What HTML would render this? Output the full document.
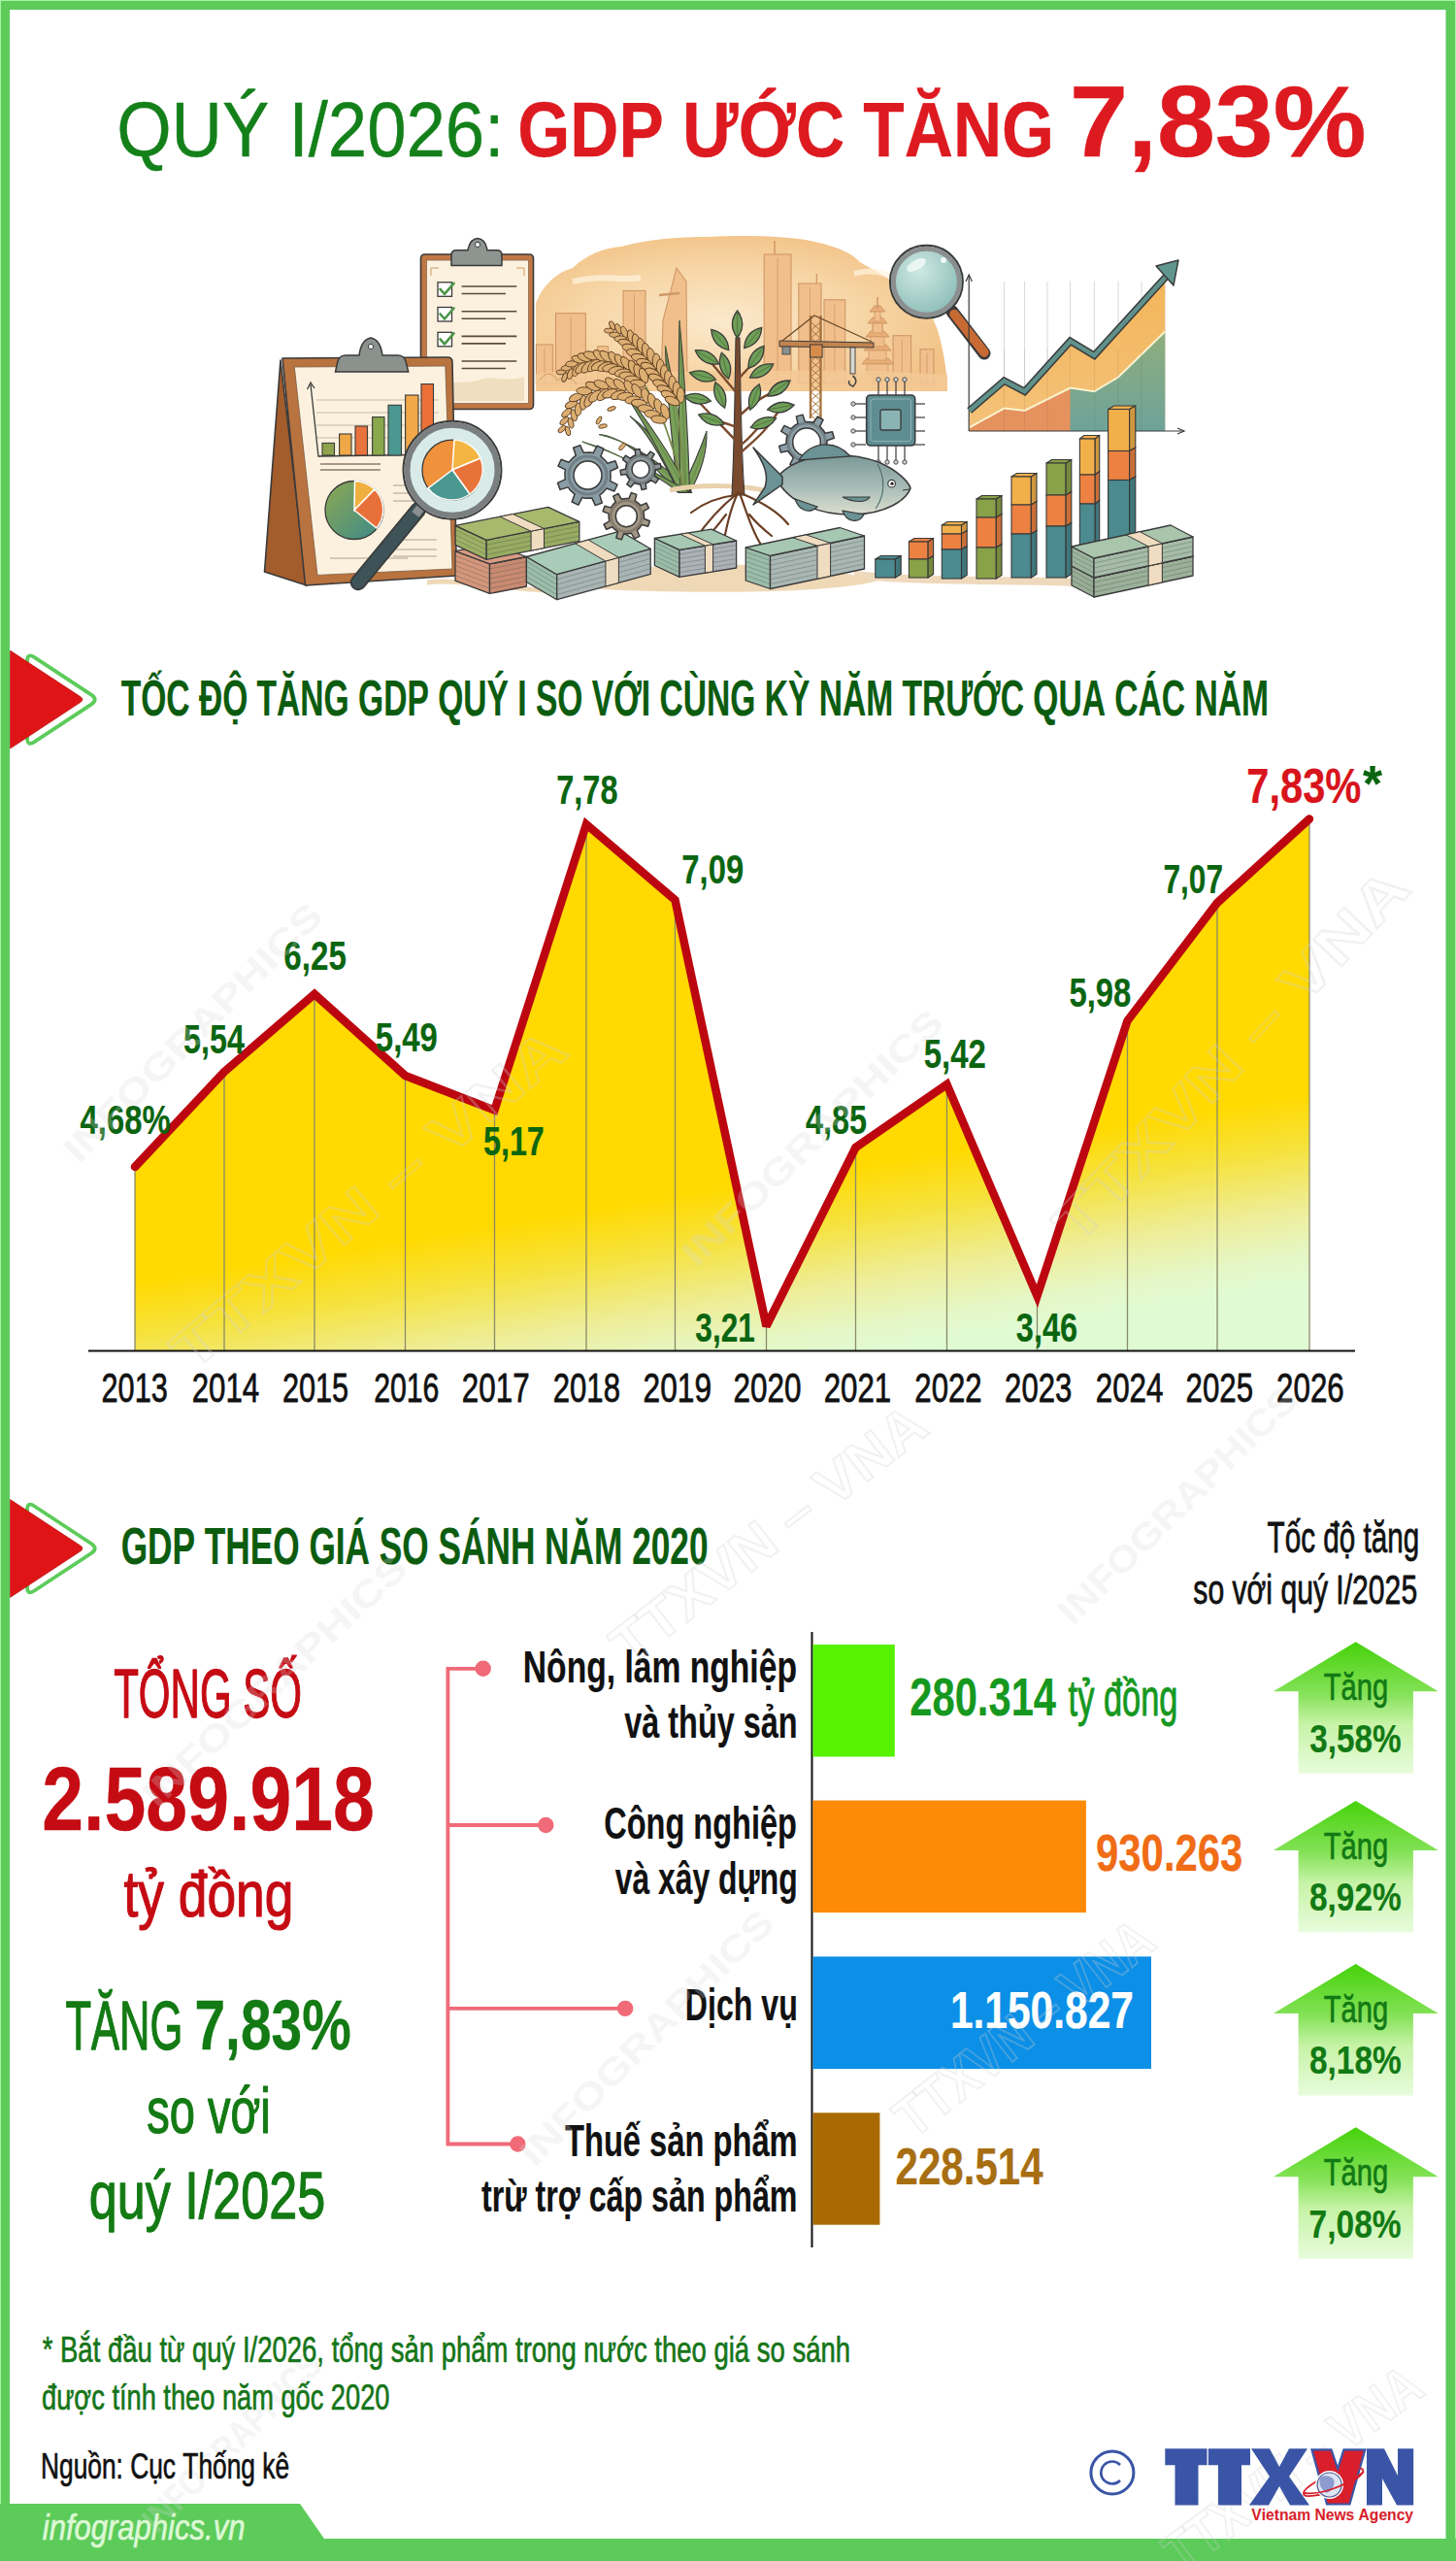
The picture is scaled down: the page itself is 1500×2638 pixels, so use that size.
<!DOCTYPE html><html><head><meta charset="utf-8"><title>GDP Q1/2026</title><style>html,body{margin:0;padding:0;background:#fff;width:1500px;height:2638px;overflow:hidden}text{font-family:"Liberation Sans",sans-serif;font-kerning:none;font-variant-ligatures:none}</style></head><body><svg width="1500" height="2638" viewBox="0 0 1500 2638" style="display:block;font-family:'Liberation Sans',sans-serif;font-kerning:none;font-variant-ligatures:none"><rect x="0" y="0" width="1500" height="2638" fill="#a8f2a4"/><rect x="1" y="1" width="1498" height="2637" fill="#5ccb5a"/><rect x="10" y="10" width="1479.5" height="2605" fill="#fff"/><path d="M0 2579 L309 2579 L334 2615 L1500 2615 L1500 2638 L0 2638 Z" fill="#5ccb5a"/><text transform="translate(120.15 161.10) scale(0.9143 1)" font-size="79.36" fill="#14801a" stroke="#14801a" stroke-width="0.40" stroke-linejoin="round" style="font-weight:400;">QUÝ I/2026:</text><text transform="translate(533.29 161.14) scale(0.8739 1)" font-size="79.48" fill="#dd1a20" stroke="#dd1a20" stroke-width="0.32" stroke-linejoin="round" style="font-weight:700;">GDP ƯỚC TĂNG</text><text transform="translate(1102.09 161.09) scale(1.0357 1)" font-size="104.04" fill="#dd1a20" stroke="#dd1a20" stroke-width="0.42" stroke-linejoin="round" style="font-weight:700;">7,83%</text><g id="illus"><defs><radialGradient id="cityg" cx="0.45" cy="0.55" r="0.6"><stop offset="0" stop-color="#fbe9cc"/><stop offset="0.55" stop-color="#f7d7a8"/><stop offset="1" stop-color="#f2c286"/></radialGradient><linearGradient id="fishg" x1="0" y1="0" x2="0" y2="1"><stop offset="0" stop-color="#7a9898"/><stop offset="0.55" stop-color="#a9bdb7"/><stop offset="1" stop-color="#dcdfcf"/></linearGradient><linearGradient id="pieg" x1="0" y1="0" x2="1" y2="1"><stop offset="0" stop-color="#8fa852"/><stop offset="1" stop-color="#3a8a8a"/></linearGradient><radialGradient id="lensg" cx="0.4" cy="0.35" r="0.7"><stop offset="0" stop-color="#cfe8e3"/><stop offset="1" stop-color="#86bab4"/></radialGradient><linearGradient id="chartO" x1="0" y1="0" x2="0" y2="1"><stop offset="0" stop-color="#f3b55a"/><stop offset="1" stop-color="#f4c27a"/></linearGradient><linearGradient id="chartT" x1="0" y1="0" x2="0" y2="1"><stop offset="0" stop-color="#8fae7c"/><stop offset="1" stop-color="#6ea39a"/></linearGradient></defs><path d="M552 403 L552 312 C560 292 575 280 590 276 C605 262 620 256 640 254 C670 246 700 244 730 244 C770 242 800 243 830 247 C855 252 875 258 886 270 C900 278 912 284 922 292 C945 300 958 318 966 340 C972 360 976 385 976 403 Z" fill="url(#cityg)"/><path d="M590 290 C620 282 640 290 660 286 M880 282 C900 276 915 282 930 290" fill="none" stroke="#fff3e0" stroke-width="6" opacity="0.7"/><rect x="572.5" y="322.7" width="30.9" height="72.3" fill="#f1bf8c" stroke="#cf9866" stroke-width="1.1"/><line x1="588.0" y1="326.7" x2="588.0" y2="395.0" stroke="#cf9866" stroke-width="0.8"/><rect x="552.4" y="355.0" width="17.0" height="40.0" fill="#f1bf8c" stroke="#cf9866" stroke-width="1.1"/><line x1="560.9" y1="359.0" x2="560.9" y2="395.0" stroke="#cf9866" stroke-width="0.8"/><rect x="642.0" y="299.5" width="23.0" height="95.5" fill="#f1bf8c" stroke="#cf9866" stroke-width="1.1"/><line x1="653.5" y1="303.5" x2="653.5" y2="395.0" stroke="#cf9866" stroke-width="0.8"/><rect x="615.7" y="356.7" width="10.8" height="38.3" fill="#f1bf8c" stroke="#cf9866" stroke-width="1.1"/><line x1="621.1" y1="360.7" x2="621.1" y2="395.0" stroke="#cf9866" stroke-width="0.8"/><rect x="787.2" y="262.0" width="27.8" height="133.0" fill="#f1bf8c" stroke="#cf9866" stroke-width="1.1"/><line x1="801.1" y1="266.0" x2="801.1" y2="395.0" stroke="#cf9866" stroke-width="0.8"/><rect x="822.8" y="292.0" width="23.2" height="103.0" fill="#f1bf8c" stroke="#cf9866" stroke-width="1.1"/><line x1="834.4" y1="296.0" x2="834.4" y2="395.0" stroke="#cf9866" stroke-width="0.8"/><rect x="849.0" y="308.8" width="21.7" height="86.2" fill="#f1bf8c" stroke="#cf9866" stroke-width="1.1"/><line x1="859.9" y1="312.8" x2="859.9" y2="395.0" stroke="#cf9866" stroke-width="0.8"/><rect x="920.0" y="345.7" width="18.6" height="49.3" fill="#f1bf8c" stroke="#cf9866" stroke-width="1.1"/><line x1="929.3" y1="349.7" x2="929.3" y2="395.0" stroke="#cf9866" stroke-width="0.8"/><rect x="948.0" y="359.8" width="14.0" height="35.2" fill="#f1bf8c" stroke="#cf9866" stroke-width="1.1"/><line x1="955.0" y1="363.8" x2="955.0" y2="395.0" stroke="#cf9866" stroke-width="0.8"/><path d="M681 395 L683 330 L697 276 L707 290 L708 395 Z" fill="#f1bf8c" stroke="#cf9866" stroke-width="1.1"/><path d="M679 304 L700 302" stroke="#cf9866" stroke-width="2.5"/><line x1="798" y1="262" x2="798" y2="248" stroke="#cf9866" stroke-width="1.5"/><line x1="841.3" y1="292" x2="841.3" y2="282" stroke="#cf9866" stroke-width="1.3"/><rect x="899" y="330" width="10" height="65" fill="#eeb582" stroke="#cf9866" stroke-width="1"/><path d="M888.0 375.0 L920.0 375.0 L915.0 369.0 L893.0 369.0 Z" fill="#e9ad78" stroke="#cf9866" stroke-width="1"/><rect x="893.0" y="375.0" width="22.0" height="10" fill="#f1bf8c" stroke="#cf9866" stroke-width="0.8"/><path d="M890.0 361.0 L918.0 361.0 L913.0 355.0 L895.0 355.0 Z" fill="#e9ad78" stroke="#cf9866" stroke-width="1"/><rect x="895.0" y="361.0" width="18.0" height="10" fill="#f1bf8c" stroke="#cf9866" stroke-width="0.8"/><path d="M892.0 347.0 L916.0 347.0 L911.0 341.0 L897.0 341.0 Z" fill="#e9ad78" stroke="#cf9866" stroke-width="1"/><rect x="897.0" y="347.0" width="14.0" height="10" fill="#f1bf8c" stroke="#cf9866" stroke-width="0.8"/><path d="M894.0 333.0 L914.0 333.0 L909.0 327.0 L899.0 327.0 Z" fill="#e9ad78" stroke="#cf9866" stroke-width="1"/><rect x="899.0" y="333.0" width="10.0" height="10" fill="#f1bf8c" stroke="#cf9866" stroke-width="0.8"/><path d="M896.0 321.0 L912.0 321.0 L907.0 315.0 L901.0 315.0 Z" fill="#e9ad78" stroke="#cf9866" stroke-width="1"/><rect x="901.0" y="321.0" width="6.0" height="10" fill="#f1bf8c" stroke="#cf9866" stroke-width="0.8"/><path d="M904 318 L904 306" stroke="#cf9866" stroke-width="1.5"/><path d="M552 385 C600 380 700 384 800 382 C880 380 940 384 976 386 L976 403 L552 403 Z" fill="#f3c995" opacity="0.85"/><path d="M556 392 C562 382 570 384 574 392 C580 386 590 388 594 396" fill="none" stroke="#cf9866" stroke-width="1"/><rect x="433.5" y="262" width="116" height="159.5" rx="4" fill="#c07845" stroke="#3a3a3a" stroke-width="1.6"/><rect x="439.5" y="268" width="105" height="147.5" fill="#fbf1de" stroke="#8a6a50" stroke-width="0.8"/><path d="M445 402 C462 390 478 396 492 392 C505 386 520 394 540 388 L540 413 L445 413 Z" fill="#f0dcbd" opacity="0.9"/><path d="M444 276 L452 276 M444 276 L444 284 M540 276 L532 276 M540 276 L540 284" stroke="#d9b98e" stroke-width="1.5"/><rect x="451" y="290.8" width="14.5" height="14.5" fill="#fff" stroke="#3a3a3a" stroke-width="1.3"/><path d="M453.5 297.8 L458 302.8 L467.5 291.8" fill="none" stroke="#4a9646" stroke-width="2.6" stroke-linecap="round" stroke-linejoin="round"/><rect x="451" y="316.5" width="14.5" height="14.5" fill="#fff" stroke="#3a3a3a" stroke-width="1.3"/><path d="M453.5 323.5 L458 328.5 L467.5 317.5" fill="none" stroke="#4a9646" stroke-width="2.6" stroke-linecap="round" stroke-linejoin="round"/><rect x="451" y="342.3" width="14.5" height="14.5" fill="#fff" stroke="#3a3a3a" stroke-width="1.3"/><path d="M453.5 349.3 L458 354.3 L467.5 343.3" fill="none" stroke="#4a9646" stroke-width="2.6" stroke-linecap="round" stroke-linejoin="round"/><line x1="475.6" y1="295.0" x2="532.3" y2="295.0" stroke="#5a4a3a" stroke-width="1.6"/><line x1="475.6" y1="302.5" x2="521" y2="302.5" stroke="#5a4a3a" stroke-width="1.6"/><line x1="475.6" y1="320.7" x2="532.3" y2="320.7" stroke="#5a4a3a" stroke-width="1.6"/><line x1="475.6" y1="328.2" x2="521" y2="328.2" stroke="#5a4a3a" stroke-width="1.6"/><line x1="475.6" y1="346.4" x2="532.3" y2="346.4" stroke="#5a4a3a" stroke-width="1.6"/><line x1="475.6" y1="353.9" x2="521" y2="353.9" stroke="#5a4a3a" stroke-width="1.6"/><line x1="475.6" y1="372.0" x2="532.3" y2="372.0" stroke="#5a4a3a" stroke-width="1.6"/><line x1="475.6" y1="379.5" x2="521" y2="379.5" stroke="#5a4a3a" stroke-width="1.6"/><path d="M465 273.5 L465 263 Q465 257.8 470 257.8 L482 257.8 Q484 246 492 245.5 Q500 246 502 257.8 L512 257.8 Q517 257.8 517 263 L517 273.5 Z" fill="#8e948f" stroke="#3a3a3a" stroke-width="1.5"/><circle cx="492" cy="252" r="2.6" fill="#fff" stroke="#3a3a3a" stroke-width="1"/><path d="M289 371 L272.5 589 L316 603 Z" fill="#a35c2c" stroke="#3a3a3a" stroke-width="1.6" stroke-linejoin="round"/><path d="M291 369 L461 368 Q466 368 466 373 L470.5 593 L314.5 603 Z" fill="#b9733f" stroke="#3a3a3a" stroke-width="1.6" stroke-linejoin="round"/><path d="M303.3 378 L458.8 377 L466 586 L327 592.4 Z" fill="#fbf1de" stroke="#7a5a40" stroke-width="0.8"/><line x1="326" y1="412" x2="452" y2="412" stroke="#c9bba8" stroke-width="1"/><line x1="326" y1="425" x2="452" y2="425" stroke="#c9bba8" stroke-width="1"/><line x1="326" y1="438" x2="452" y2="438" stroke="#c9bba8" stroke-width="1"/><line x1="326" y1="451" x2="452" y2="451" stroke="#c9bba8" stroke-width="1"/><path d="M320 396 L328 470 L452 468" fill="none" stroke="#3a3a3a" stroke-width="1.3"/><path d="M316.5 401 L320 394 L324 400" fill="none" stroke="#3a3a3a" stroke-width="1.3"/><rect x="332.0" y="456.4" width="12.5" height="12.6" fill="#8fa34e" stroke="#3a3a3a" stroke-width="1.1"/><rect x="349.6" y="447.0" width="12.4" height="22.0" fill="#f0a847" stroke="#3a3a3a" stroke-width="1.1"/><rect x="366.0" y="439.0" width="12.5" height="30.0" fill="#e9733c" stroke="#3a3a3a" stroke-width="1.1"/><rect x="383.6" y="429.6" width="12.4" height="39.4" fill="#8aa84c" stroke="#3a3a3a" stroke-width="1.1"/><rect x="400.0" y="417.3" width="13.5" height="51.7" fill="#4b9890" stroke="#3a3a3a" stroke-width="1.1"/><rect x="417.6" y="407.0" width="13.4" height="62.0" fill="#f0a848" stroke="#3a3a3a" stroke-width="1.1"/><rect x="434.0" y="395.6" width="12.5" height="73.4" fill="#ec7038" stroke="#3a3a3a" stroke-width="1.1"/><line x1="330" y1="478" x2="392" y2="478" stroke="#8a7a6a" stroke-width="1.4"/><line x1="330" y1="484" x2="392" y2="484" stroke="#8a7a6a" stroke-width="1.4"/><line x1="405" y1="500" x2="450" y2="500" stroke="#b0a090" stroke-width="1.2"/><line x1="405" y1="508" x2="450" y2="508" stroke="#b0a090" stroke-width="1.2"/><line x1="405" y1="516" x2="450" y2="516" stroke="#b0a090" stroke-width="1.2"/><line x1="405" y1="556" x2="450" y2="556" stroke="#b0a090" stroke-width="1.2"/><line x1="405" y1="566" x2="450" y2="566" stroke="#b0a090" stroke-width="1.2"/><line x1="405" y1="573" x2="450" y2="573" stroke="#b0a090" stroke-width="1.2"/><line x1="340" y1="575" x2="420" y2="575" stroke="#b0a090" stroke-width="1.2"/><circle cx="365" cy="525.5" r="30" fill="url(#pieg)" stroke="#3a3a3a" stroke-width="1.3"/><path d="M365 525.5 L365.5 495.5 A30 30 0 0 1 386 504 Z" fill="#f0b040" stroke="#fff" stroke-width="1.5"/><path d="M365 525.5 L386 504 A30 30 0 0 1 388 544 Z" fill="#e8703a" stroke="#fff" stroke-width="1.5"/><path d="M345.5 383 L348 372 Q350 366 356 366 L370 366 Q372 350 382 348 Q392 350 394 366 L410 366 Q416 366 418 372 L420.7 383 Z" fill="#8b928d" stroke="#3a3a3a" stroke-width="1.5"/><circle cx="382" cy="357" r="2.6" fill="#fff" stroke="#3a3a3a" stroke-width="1"/><path d="M698.0 507.0 Q647.8 449.3 617.0 447.5 Q662.2 457.4 712.4 507.0 Z" fill="#7aa05a" stroke="#3a3a3a" stroke-width="1.1"/><path d="M707.0 507.0 Q655.0 453.4 617.0 447.5" fill="none" stroke="#5a8040" stroke-width="0.8"/><path d="M699.0 507.0 Q669.6 445.6 649.0 428.8 Q682.4 452.8 711.8 507.0 Z" fill="#7aa05a" stroke="#3a3a3a" stroke-width="1.1"/><path d="M707.0 507.0 Q676.0 449.2 649.0 428.8" fill="none" stroke="#5a8040" stroke-width="0.8"/><path d="M699.0 507.0 Q687.6 422.6 685.4 356.0 Q700.4 429.8 711.8 507.0 Z" fill="#7aa05a" stroke="#3a3a3a" stroke-width="1.1"/><path d="M707.0 507.0 Q694.0 426.2 685.4 356.0" fill="none" stroke="#5a8040" stroke-width="0.8"/><path d="M701.0 507.0 Q719.2 470.2 728.0 444.0 Q728.8 475.6 710.6 507.0 Z" fill="#7aa05a" stroke="#3a3a3a" stroke-width="1.1"/><path d="M707.0 507.0 Q724.0 472.9 728.0 444.0" fill="none" stroke="#5a8040" stroke-width="0.8"/><path d="M700.0 507.0 Q666.4 437.9 640.0 400.0 Q677.6 444.2 711.2 507.0 Z" fill="#7aa05a" stroke="#3a3a3a" stroke-width="1.1"/><path d="M707.0 507.0 Q672.0 441.1 640.0 400.0" fill="none" stroke="#5a8040" stroke-width="0.8"/><path d="M701.0 507.0 Q698.2 408.2 700.0 330.0 Q707.8 413.6 710.6 507.0 Z" fill="#7aa05a" stroke="#3a3a3a" stroke-width="1.1"/><path d="M707.0 507.0 Q703.0 410.9 700.0 330.0" fill="none" stroke="#5a8040" stroke-width="0.8"/><path d="M700.0 507.0 Q644.4 467.9 600.0 455.0 Q655.6 474.2 711.2 507.0 Z" fill="#7aa05a" stroke="#3a3a3a" stroke-width="1.1"/><path d="M707.0 507.0 Q650.0 471.1 600.0 455.0" fill="none" stroke="#5a8040" stroke-width="0.8"/><path d="M696 408 C700 440 704 470 706 505 M660 390 C680 420 695 460 704 505 M682 428 C690 455 700 480 705 505" fill="none" stroke="#7a8a4a" stroke-width="1.6"/><ellipse cx="630.7" cy="335.4" rx="4.8" ry="2.4" transform="rotate(64 630.7 335.4)" fill="#dcae72" stroke="#5a3a1e" stroke-width="0.9"/><ellipse cx="627.3" cy="340.6" rx="4.8" ry="2.4" transform="rotate(0 627.3 340.6)" fill="#dcae72" stroke="#5a3a1e" stroke-width="0.9"/><ellipse cx="637.0" cy="338.8" rx="5.5" ry="2.7" transform="rotate(64 637.0 338.8)" fill="#dcae72" stroke="#5a3a1e" stroke-width="0.9"/><ellipse cx="633.2" cy="344.8" rx="5.5" ry="2.7" transform="rotate(0 633.2 344.8)" fill="#dcae72" stroke="#5a3a1e" stroke-width="0.9"/><ellipse cx="643.2" cy="342.2" rx="6.2" ry="3.1" transform="rotate(64 643.2 342.2)" fill="#dcae72" stroke="#5a3a1e" stroke-width="0.9"/><ellipse cx="639.0" cy="349.0" rx="6.2" ry="3.1" transform="rotate(0 639.0 349.0)" fill="#dcae72" stroke="#5a3a1e" stroke-width="0.9"/><ellipse cx="650.0" cy="346.7" rx="6.9" ry="3.4" transform="rotate(77 650.0 346.7)" fill="#dcae72" stroke="#5a3a1e" stroke-width="0.9"/><ellipse cx="643.7" cy="353.0" rx="6.9" ry="3.4" transform="rotate(13 643.7 353.0)" fill="#dcae72" stroke="#5a3a1e" stroke-width="0.9"/><ellipse cx="655.3" cy="351.4" rx="7.5" ry="3.8" transform="rotate(77 655.3 351.4)" fill="#dcae72" stroke="#5a3a1e" stroke-width="0.9"/><ellipse cx="648.4" cy="358.3" rx="7.5" ry="3.8" transform="rotate(13 648.4 358.3)" fill="#dcae72" stroke="#5a3a1e" stroke-width="0.9"/><ellipse cx="660.6" cy="356.3" rx="8.0" ry="4.0" transform="rotate(77 660.6 356.3)" fill="#dcae72" stroke="#5a3a1e" stroke-width="0.9"/><ellipse cx="653.3" cy="363.6" rx="8.0" ry="4.0" transform="rotate(13 653.3 363.6)" fill="#dcae72" stroke="#5a3a1e" stroke-width="0.9"/><ellipse cx="665.7" cy="361.3" rx="8.0" ry="4.0" transform="rotate(77 665.7 361.3)" fill="#dcae72" stroke="#5a3a1e" stroke-width="0.9"/><ellipse cx="658.3" cy="368.7" rx="8.0" ry="4.0" transform="rotate(13 658.3 368.7)" fill="#dcae72" stroke="#5a3a1e" stroke-width="0.9"/><ellipse cx="670.7" cy="366.4" rx="8.0" ry="4.0" transform="rotate(77 670.7 366.4)" fill="#dcae72" stroke="#5a3a1e" stroke-width="0.9"/><ellipse cx="663.4" cy="373.7" rx="8.0" ry="4.0" transform="rotate(13 663.4 373.7)" fill="#dcae72" stroke="#5a3a1e" stroke-width="0.9"/><ellipse cx="676.3" cy="372.1" rx="8.0" ry="4.0" transform="rotate(87 676.3 372.1)" fill="#dcae72" stroke="#5a3a1e" stroke-width="0.9"/><ellipse cx="667.8" cy="378.1" rx="8.0" ry="4.0" transform="rotate(23 667.8 378.1)" fill="#dcae72" stroke="#5a3a1e" stroke-width="0.9"/><ellipse cx="680.4" cy="378.0" rx="8.0" ry="4.0" transform="rotate(87 680.4 378.0)" fill="#dcae72" stroke="#5a3a1e" stroke-width="0.9"/><ellipse cx="671.9" cy="383.9" rx="8.0" ry="4.0" transform="rotate(23 671.9 383.9)" fill="#dcae72" stroke="#5a3a1e" stroke-width="0.9"/><ellipse cx="684.5" cy="383.9" rx="8.0" ry="4.0" transform="rotate(87 684.5 383.9)" fill="#dcae72" stroke="#5a3a1e" stroke-width="0.9"/><ellipse cx="675.9" cy="389.8" rx="8.0" ry="4.0" transform="rotate(23 675.9 389.8)" fill="#dcae72" stroke="#5a3a1e" stroke-width="0.9"/><ellipse cx="688.6" cy="389.5" rx="8.0" ry="4.0" transform="rotate(85 688.6 389.5)" fill="#dcae72" stroke="#5a3a1e" stroke-width="0.9"/><ellipse cx="680.3" cy="395.7" rx="8.0" ry="4.0" transform="rotate(21 680.3 395.7)" fill="#dcae72" stroke="#5a3a1e" stroke-width="0.9"/><ellipse cx="692.9" cy="395.2" rx="8.0" ry="4.0" transform="rotate(85 692.9 395.2)" fill="#dcae72" stroke="#5a3a1e" stroke-width="0.9"/><ellipse cx="684.6" cy="401.4" rx="8.0" ry="4.0" transform="rotate(21 684.6 401.4)" fill="#dcae72" stroke="#5a3a1e" stroke-width="0.9"/><ellipse cx="697.2" cy="401.2" rx="8.0" ry="4.0" transform="rotate(87 697.2 401.2)" fill="#dcae72" stroke="#5a3a1e" stroke-width="0.9"/><ellipse cx="688.6" cy="407.1" rx="8.0" ry="4.0" transform="rotate(23 688.6 407.1)" fill="#dcae72" stroke="#5a3a1e" stroke-width="0.9"/><ellipse cx="701.3" cy="407.0" rx="8.0" ry="4.0" transform="rotate(87 701.3 407.0)" fill="#dcae72" stroke="#5a3a1e" stroke-width="0.9"/><ellipse cx="692.7" cy="413.0" rx="8.0" ry="4.0" transform="rotate(23 692.7 413.0)" fill="#dcae72" stroke="#5a3a1e" stroke-width="0.9"/><ellipse cx="578.2" cy="383.4" rx="4.8" ry="2.4" transform="rotate(-3 578.2 383.4)" fill="#dcae72" stroke="#5a3a1e" stroke-width="0.9"/><ellipse cx="581.8" cy="388.6" rx="4.8" ry="2.4" transform="rotate(-67 581.8 388.6)" fill="#dcae72" stroke="#5a3a1e" stroke-width="0.9"/><ellipse cx="583.6" cy="379.2" rx="5.5" ry="2.8" transform="rotate(-3 583.6 379.2)" fill="#dcae72" stroke="#5a3a1e" stroke-width="0.9"/><ellipse cx="587.7" cy="385.1" rx="5.5" ry="2.8" transform="rotate(-67 587.7 385.1)" fill="#dcae72" stroke="#5a3a1e" stroke-width="0.9"/><ellipse cx="589.0" cy="374.9" rx="6.3" ry="3.1" transform="rotate(-3 589.0 374.9)" fill="#dcae72" stroke="#5a3a1e" stroke-width="0.9"/><ellipse cx="593.6" cy="381.6" rx="6.3" ry="3.1" transform="rotate(-67 593.6 381.6)" fill="#dcae72" stroke="#5a3a1e" stroke-width="0.9"/><ellipse cx="596.0" cy="370.3" rx="7.0" ry="3.5" transform="rotate(18 596.0 370.3)" fill="#dcae72" stroke="#5a3a1e" stroke-width="0.9"/><ellipse cx="598.2" cy="379.2" rx="7.0" ry="3.5" transform="rotate(-46 598.2 379.2)" fill="#dcae72" stroke="#5a3a1e" stroke-width="0.9"/><ellipse cx="602.5" cy="368.2" rx="7.8" ry="3.9" transform="rotate(18 602.5 368.2)" fill="#dcae72" stroke="#5a3a1e" stroke-width="0.9"/><ellipse cx="605.0" cy="378.0" rx="7.8" ry="3.9" transform="rotate(-46 605.0 378.0)" fill="#dcae72" stroke="#5a3a1e" stroke-width="0.9"/><ellipse cx="609.1" cy="366.4" rx="8.0" ry="4.0" transform="rotate(18 609.1 366.4)" fill="#dcae72" stroke="#5a3a1e" stroke-width="0.9"/><ellipse cx="611.6" cy="376.4" rx="8.0" ry="4.0" transform="rotate(-46 611.6 376.4)" fill="#dcae72" stroke="#5a3a1e" stroke-width="0.9"/><ellipse cx="617.8" cy="366.5" rx="8.0" ry="4.0" transform="rotate(39 617.8 366.5)" fill="#dcae72" stroke="#5a3a1e" stroke-width="0.9"/><ellipse cx="616.5" cy="376.8" rx="8.0" ry="4.0" transform="rotate(-25 616.5 376.8)" fill="#dcae72" stroke="#5a3a1e" stroke-width="0.9"/><ellipse cx="624.6" cy="367.3" rx="8.0" ry="4.0" transform="rotate(39 624.6 367.3)" fill="#dcae72" stroke="#5a3a1e" stroke-width="0.9"/><ellipse cx="623.3" cy="377.7" rx="8.0" ry="4.0" transform="rotate(-25 623.3 377.7)" fill="#dcae72" stroke="#5a3a1e" stroke-width="0.9"/><ellipse cx="632.5" cy="369.2" rx="8.0" ry="4.0" transform="rotate(54 632.5 369.2)" fill="#dcae72" stroke="#5a3a1e" stroke-width="0.9"/><ellipse cx="628.6" cy="378.9" rx="8.0" ry="4.0" transform="rotate(-10 628.6 378.9)" fill="#dcae72" stroke="#5a3a1e" stroke-width="0.9"/><ellipse cx="638.9" cy="371.8" rx="8.0" ry="4.0" transform="rotate(54 638.9 371.8)" fill="#dcae72" stroke="#5a3a1e" stroke-width="0.9"/><ellipse cx="634.9" cy="381.5" rx="8.0" ry="4.0" transform="rotate(-10 634.9 381.5)" fill="#dcae72" stroke="#5a3a1e" stroke-width="0.9"/><ellipse cx="645.2" cy="374.5" rx="8.0" ry="4.0" transform="rotate(54 645.2 374.5)" fill="#dcae72" stroke="#5a3a1e" stroke-width="0.9"/><ellipse cx="641.2" cy="384.1" rx="8.0" ry="4.0" transform="rotate(-10 641.2 384.1)" fill="#dcae72" stroke="#5a3a1e" stroke-width="0.9"/><ellipse cx="652.0" cy="378.7" rx="8.0" ry="4.0" transform="rotate(68 652.0 378.7)" fill="#dcae72" stroke="#5a3a1e" stroke-width="0.9"/><ellipse cx="645.9" cy="387.1" rx="8.0" ry="4.0" transform="rotate(4 645.9 387.1)" fill="#dcae72" stroke="#5a3a1e" stroke-width="0.9"/><ellipse cx="657.6" cy="382.8" rx="8.0" ry="4.0" transform="rotate(68 657.6 382.8)" fill="#dcae72" stroke="#5a3a1e" stroke-width="0.9"/><ellipse cx="651.4" cy="391.1" rx="8.0" ry="4.0" transform="rotate(4 651.4 391.1)" fill="#dcae72" stroke="#5a3a1e" stroke-width="0.9"/><ellipse cx="663.1" cy="386.8" rx="8.0" ry="4.0" transform="rotate(68 663.1 386.8)" fill="#dcae72" stroke="#5a3a1e" stroke-width="0.9"/><ellipse cx="656.9" cy="395.2" rx="8.0" ry="4.0" transform="rotate(4 656.9 395.2)" fill="#dcae72" stroke="#5a3a1e" stroke-width="0.9"/><ellipse cx="579.0" cy="442.0" rx="4.8" ry="2.4" transform="rotate(-40 579.0 442.0)" fill="#dcae72" stroke="#5a3a1e" stroke-width="0.9"/><ellipse cx="585.0" cy="444.0" rx="4.8" ry="2.4" transform="rotate(-104 585.0 444.0)" fill="#dcae72" stroke="#5a3a1e" stroke-width="0.9"/><ellipse cx="581.4" cy="433.6" rx="5.4" ry="2.7" transform="rotate(-40 581.4 433.6)" fill="#dcae72" stroke="#5a3a1e" stroke-width="0.9"/><ellipse cx="588.1" cy="435.8" rx="5.4" ry="2.7" transform="rotate(-104 588.1 435.8)" fill="#dcae72" stroke="#5a3a1e" stroke-width="0.9"/><ellipse cx="583.8" cy="425.2" rx="6.1" ry="3.0" transform="rotate(-40 583.8 425.2)" fill="#dcae72" stroke="#5a3a1e" stroke-width="0.9"/><ellipse cx="591.3" cy="427.7" rx="6.1" ry="3.0" transform="rotate(-104 591.3 427.7)" fill="#dcae72" stroke="#5a3a1e" stroke-width="0.9"/><ellipse cx="588.6" cy="416.6" rx="6.7" ry="3.4" transform="rotate(-22 588.6 416.6)" fill="#dcae72" stroke="#5a3a1e" stroke-width="0.9"/><ellipse cx="595.7" cy="421.7" rx="6.7" ry="3.4" transform="rotate(-86 595.7 421.7)" fill="#dcae72" stroke="#5a3a1e" stroke-width="0.9"/><ellipse cx="593.4" cy="409.3" rx="7.4" ry="3.7" transform="rotate(-22 593.4 409.3)" fill="#dcae72" stroke="#5a3a1e" stroke-width="0.9"/><ellipse cx="601.1" cy="414.8" rx="7.4" ry="3.7" transform="rotate(-86 601.1 414.8)" fill="#dcae72" stroke="#5a3a1e" stroke-width="0.9"/><ellipse cx="601.9" cy="402.8" rx="8.0" ry="4.0" transform="rotate(2 601.9 402.8)" fill="#dcae72" stroke="#5a3a1e" stroke-width="0.9"/><ellipse cx="607.0" cy="411.8" rx="8.0" ry="4.0" transform="rotate(-62 607.0 411.8)" fill="#dcae72" stroke="#5a3a1e" stroke-width="0.9"/><ellipse cx="611.1" cy="397.9" rx="8.0" ry="4.0" transform="rotate(21 611.1 397.9)" fill="#dcae72" stroke="#5a3a1e" stroke-width="0.9"/><ellipse cx="613.0" cy="408.1" rx="8.0" ry="4.0" transform="rotate(-43 613.0 408.1)" fill="#dcae72" stroke="#5a3a1e" stroke-width="0.9"/><ellipse cx="619.6" cy="396.3" rx="8.0" ry="4.0" transform="rotate(21 619.6 396.3)" fill="#dcae72" stroke="#5a3a1e" stroke-width="0.9"/><ellipse cx="621.6" cy="406.5" rx="8.0" ry="4.0" transform="rotate(-43 621.6 406.5)" fill="#dcae72" stroke="#5a3a1e" stroke-width="0.9"/><ellipse cx="630.1" cy="395.1" rx="8.0" ry="4.0" transform="rotate(42 630.1 395.1)" fill="#dcae72" stroke="#5a3a1e" stroke-width="0.9"/><ellipse cx="628.3" cy="405.3" rx="8.0" ry="4.0" transform="rotate(-22 628.3 405.3)" fill="#dcae72" stroke="#5a3a1e" stroke-width="0.9"/><ellipse cx="638.7" cy="396.6" rx="8.0" ry="4.0" transform="rotate(42 638.7 396.6)" fill="#dcae72" stroke="#5a3a1e" stroke-width="0.9"/><ellipse cx="636.9" cy="406.8" rx="8.0" ry="4.0" transform="rotate(-22 636.9 406.8)" fill="#dcae72" stroke="#5a3a1e" stroke-width="0.9"/><ellipse cx="648.4" cy="398.9" rx="8.0" ry="4.0" transform="rotate(57 648.4 398.9)" fill="#dcae72" stroke="#5a3a1e" stroke-width="0.9"/><ellipse cx="644.0" cy="408.3" rx="8.0" ry="4.0" transform="rotate(-7 644.0 408.3)" fill="#dcae72" stroke="#5a3a1e" stroke-width="0.9"/><ellipse cx="656.3" cy="402.6" rx="8.0" ry="4.0" transform="rotate(57 656.3 402.6)" fill="#dcae72" stroke="#5a3a1e" stroke-width="0.9"/><ellipse cx="651.9" cy="412.0" rx="8.0" ry="4.0" transform="rotate(-7 651.9 412.0)" fill="#dcae72" stroke="#5a3a1e" stroke-width="0.9"/><ellipse cx="665.1" cy="407.5" rx="8.0" ry="4.0" transform="rotate(72 665.1 407.5)" fill="#dcae72" stroke="#5a3a1e" stroke-width="0.9"/><ellipse cx="658.4" cy="415.4" rx="8.0" ry="4.0" transform="rotate(8 658.4 415.4)" fill="#dcae72" stroke="#5a3a1e" stroke-width="0.9"/><ellipse cx="671.8" cy="413.0" rx="8.0" ry="4.0" transform="rotate(72 671.8 413.0)" fill="#dcae72" stroke="#5a3a1e" stroke-width="0.9"/><ellipse cx="665.1" cy="421.0" rx="8.0" ry="4.0" transform="rotate(8 665.1 421.0)" fill="#dcae72" stroke="#5a3a1e" stroke-width="0.9"/><ellipse cx="678.4" cy="418.5" rx="8.0" ry="4.0" transform="rotate(71 678.4 418.5)" fill="#dcae72" stroke="#5a3a1e" stroke-width="0.9"/><ellipse cx="671.9" cy="426.6" rx="8.0" ry="4.0" transform="rotate(7 671.9 426.6)" fill="#dcae72" stroke="#5a3a1e" stroke-width="0.9"/><ellipse cx="685.2" cy="423.9" rx="8.0" ry="4.0" transform="rotate(71 685.2 423.9)" fill="#dcae72" stroke="#5a3a1e" stroke-width="0.9"/><ellipse cx="678.8" cy="432.1" rx="8.0" ry="4.0" transform="rotate(7 678.8 432.1)" fill="#dcae72" stroke="#5a3a1e" stroke-width="0.9"/><ellipse cx="630" cy="421" rx="4.5" ry="2" transform="rotate(-20 630 421)" fill="#dcae72" stroke="#5a3a1e" stroke-width="0.8"/><ellipse cx="617" cy="433" rx="4.5" ry="2" transform="rotate(-60 617 433)" fill="#dcae72" stroke="#5a3a1e" stroke-width="0.8"/><ellipse cx="621" cy="439" rx="4.5" ry="2" transform="rotate(-10 621 439)" fill="#dcae72" stroke="#5a3a1e" stroke-width="0.8"/><ellipse cx="641" cy="460" rx="4.5" ry="2" transform="rotate(-50 641 460)" fill="#dcae72" stroke="#5a3a1e" stroke-width="0.8"/><path d="M690 505 C720 498 770 500 790 506" stroke="#ead2ae" stroke-width="5" fill="none"/><path d="M754 510 C756 470 757 420 758 348 L762 348 C763 420 764 470 767 510 Z" fill="#7a4a2e" stroke="#3a3a3a" stroke-width="1.1"/><path d="M759 455 C745 440 735 430 718 412 M760 430 C775 415 790 405 806 400 M759 405 C748 392 738 380 728 368 M761 390 C772 378 782 368 784 367 M759 470 C775 455 790 445 804 420 M759 440 C745 435 735 432 733 432 M761 460 C775 450 780 440 786 436" fill="none" stroke="#7a4a2e" stroke-width="2.4"/><path d="M759.6 348.0 Q770.0 334.0 759.6 320.0 Q749.2 334.0 759.6 348.0 Z" fill="#6e9e57" stroke="#3a3a3a" stroke-width="1.3"/><path d="M759.6 348.0 L759.6 320.0" stroke="#4a6a3a" stroke-width="0.8"/><path d="M750.8 360.7 Q749.8 343.3 732.8 339.3 Q733.8 356.7 750.8 360.7 Z" fill="#6e9e57" stroke="#3a3a3a" stroke-width="1.3"/><path d="M750.8 360.7 L732.8 339.3" stroke="#4a6a3a" stroke-width="0.8"/><path d="M766.7 358.7 Q783.7 354.7 784.7 337.3 Q767.7 341.3 766.7 358.7 Z" fill="#6e9e57" stroke="#3a3a3a" stroke-width="1.3"/><path d="M766.7 358.7 L784.7 337.3" stroke="#4a6a3a" stroke-width="0.8"/><path d="M740.5 374.9 Q733.6 358.9 716.3 360.9 Q723.2 376.9 740.5 374.9 Z" fill="#6e9e57" stroke="#3a3a3a" stroke-width="1.3"/><path d="M740.5 374.9 L716.3 360.9" stroke="#4a6a3a" stroke-width="0.8"/><path d="M750.6 390.3 Q757.0 374.1 743.4 363.3 Q737.0 379.5 750.6 390.3 Z" fill="#6e9e57" stroke="#3a3a3a" stroke-width="1.3"/><path d="M750.6 390.3 L743.4 363.3" stroke="#4a6a3a" stroke-width="0.8"/><path d="M771.0 379.4 Q787.5 373.9 787.0 356.4 Q770.5 361.9 771.0 379.4 Z" fill="#6e9e57" stroke="#3a3a3a" stroke-width="1.3"/><path d="M771.0 379.4 L787.0 356.4" stroke="#4a6a3a" stroke-width="0.8"/><path d="M772.5 389.0 Q789.8 391.0 796.7 375.0 Q779.4 373.0 772.5 389.0 Z" fill="#6e9e57" stroke="#3a3a3a" stroke-width="1.3"/><path d="M772.5 389.0 L796.7 375.0" stroke="#4a6a3a" stroke-width="0.8"/><path d="M737.5 391.1 Q726.7 377.5 710.5 383.9 Q721.3 397.5 737.5 391.1 Z" fill="#6e9e57" stroke="#3a3a3a" stroke-width="1.3"/><path d="M737.5 391.1 L710.5 383.9" stroke="#4a6a3a" stroke-width="0.8"/><path d="M791.0 408.0 Q808.5 408.5 814.0 392.0 Q796.5 391.5 791.0 408.0 Z" fill="#6e9e57" stroke="#3a3a3a" stroke-width="1.3"/><path d="M791.0 408.0 L814.0 392.0" stroke="#4a6a3a" stroke-width="0.8"/><path d="M732.4 413.1 Q720.4 400.5 704.8 408.3 Q716.8 420.9 732.4 413.1 Z" fill="#6e9e57" stroke="#3a3a3a" stroke-width="1.3"/><path d="M732.4 413.1 L704.8 408.3" stroke="#4a6a3a" stroke-width="0.8"/><path d="M746.6 420.2 Q751.6 403.4 737.0 393.8 Q732.0 410.6 746.6 420.2 Z" fill="#6e9e57" stroke="#3a3a3a" stroke-width="1.3"/><path d="M746.6 420.2 L737.0 393.8" stroke="#4a6a3a" stroke-width="0.8"/><path d="M772.7 422.2 Q787.3 412.6 782.3 395.8 Q767.7 405.4 772.7 422.2 Z" fill="#6e9e57" stroke="#3a3a3a" stroke-width="1.3"/><path d="M772.7 422.2 L782.3 395.8" stroke="#4a6a3a" stroke-width="0.8"/><path d="M790.5 422.0 Q806.1 429.8 818.1 417.2 Q802.5 409.4 790.5 422.0 Z" fill="#6e9e57" stroke="#3a3a3a" stroke-width="1.3"/><path d="M790.5 422.0 L818.1 417.2" stroke="#4a6a3a" stroke-width="0.8"/><path d="M746.1 436.8 Q736.5 422.2 719.7 427.2 Q729.3 441.8 746.1 436.8 Z" fill="#6e9e57" stroke="#3a3a3a" stroke-width="1.3"/><path d="M746.1 436.8 L719.7 427.2" stroke="#4a6a3a" stroke-width="0.8"/><path d="M773.2 440.5 Q790.0 445.5 799.6 430.9 Q782.8 425.9 773.2 440.5 Z" fill="#6e9e57" stroke="#3a3a3a" stroke-width="1.3"/><path d="M773.2 440.5 L799.6 430.9" stroke="#4a6a3a" stroke-width="0.8"/><path d="M760 508 C745 520 730 535 716 556 M760 508 C752 525 748 545 744 566 M762 508 C770 530 776 550 786 564 M763 508 C780 515 800 525 812 540 M758 510 C740 512 725 518 712 528 M748 530 C740 540 735 548 730 550 M772 530 C780 540 790 548 795 552" fill="none" stroke="#6a3f24" stroke-width="2.2" stroke-linecap="round"/><path d="M835 325 L835 431 M845.5 325 L845.5 431" stroke="#a9743e" stroke-width="2.3"/><path d="M835.5 332 L845 340 M845 332 L835.5 340" stroke="#a9743e" stroke-width="1"/><path d="M835.5 340 L845 348 M845 340 L835.5 348" stroke="#a9743e" stroke-width="1"/><path d="M835.5 348 L845 356 M845 348 L835.5 356" stroke="#a9743e" stroke-width="1"/><path d="M835.5 356 L845 364 M845 356 L835.5 364" stroke="#a9743e" stroke-width="1"/><path d="M835.5 364 L845 372 M845 364 L835.5 372" stroke="#a9743e" stroke-width="1"/><path d="M835.5 372 L845 380 M845 372 L835.5 380" stroke="#a9743e" stroke-width="1"/><path d="M835.5 380 L845 388 M845 380 L835.5 388" stroke="#a9743e" stroke-width="1"/><path d="M835.5 388 L845 396 M845 388 L835.5 396" stroke="#a9743e" stroke-width="1"/><path d="M835.5 396 L845 404 M845 396 L835.5 404" stroke="#a9743e" stroke-width="1"/><path d="M835.5 404 L845 412 M845 404 L835.5 412" stroke="#a9743e" stroke-width="1"/><path d="M835.5 412 L845 420 M845 412 L835.5 420" stroke="#a9743e" stroke-width="1"/><path d="M835.5 420 L845 428 M845 420 L835.5 428" stroke="#a9743e" stroke-width="1"/><path d="M835.5 428 L845 436 M845 428 L835.5 436" stroke="#a9743e" stroke-width="1"/><path d="M803 351 L900 353 L900 358 L803 357 Z" fill="#c2844e" stroke="#3a3a3a" stroke-width="1"/><path d="M806 351 L839 325 L898 352" fill="none" stroke="#6a4a2a" stroke-width="1.3"/><rect x="834.6" y="355" width="12.5" height="13" fill="#d88c4a" stroke="#3a3a3a" stroke-width="1"/><rect x="806" y="357" width="8" height="8" fill="#8a9090" stroke="#3a3a3a" stroke-width="0.8"/><rect x="876" y="358" width="5" height="27" fill="#d8d8d0" stroke="#3a3a3a" stroke-width="0.9"/><path d="M878.5 387 Q885 392 879 398 Q873 396 875 392" fill="none" stroke="#444" stroke-width="1.6"/><path d="M981 321 L1014 364" stroke="#3a3a3a" stroke-width="13" stroke-linecap="round"/><path d="M983 323.5 L1014 363" stroke="#c86a34" stroke-width="9.5" stroke-linecap="round"/><circle cx="954.4" cy="290.2" r="37.5" fill="url(#lensg)" stroke="#3a3a3a" stroke-width="2"/><circle cx="954.4" cy="290.2" r="34" fill="none" stroke="#8c8f8f" stroke-width="5"/><ellipse cx="944" cy="273" rx="11" ry="5" transform="rotate(-30 944 273)" fill="#eef8f4" opacity="0.9"/><circle cx="972" cy="268" r="3" fill="#eef8f4"/><line x1="1034.5" y1="290" x2="1034.5" y2="444" stroke="#cfcfcf" stroke-width="0.8"/><line x1="1055.6" y1="290" x2="1055.6" y2="444" stroke="#cfcfcf" stroke-width="0.8"/><line x1="1079.0" y1="290" x2="1079.0" y2="444" stroke="#cfcfcf" stroke-width="0.8"/><line x1="1102.6" y1="290" x2="1102.6" y2="444" stroke="#cfcfcf" stroke-width="0.8"/><line x1="1127.3" y1="290" x2="1127.3" y2="444" stroke="#cfcfcf" stroke-width="0.8"/><line x1="1152.0" y1="290" x2="1152.0" y2="444" stroke="#cfcfcf" stroke-width="0.8"/><line x1="1176.0" y1="290" x2="1176.0" y2="444" stroke="#cfcfcf" stroke-width="0.8"/><line x1="1200.0" y1="290" x2="1200.0" y2="444" stroke="#cfcfcf" stroke-width="0.8"/><path d="M998.7 423 L1034.5 392.2 L1055.6 403.3 L1102.6 351.4 L1127.3 366.2 L1200.2 285 L1200.2 444 L998.7 444 Z" fill="url(#chartO)"/><path d="M998.7 440.4 L1034.5 420.6 L1055.6 423 L1102.6 399.6 L1102.6 444 L998.7 444 Z" fill="#e6925e"/><path d="M1102.6 399.6 L1127.3 403.3 L1152 388.5 L1200.2 341.5 L1200.2 444 L1102.6 444 Z" fill="url(#chartT)"/><path d="M998.7 440.4 L1034.5 420.6 L1055.6 423 L1102.6 399.6 L1127.3 403.3 L1152 388.5 L1200.2 341.5" fill="none" stroke="#fbf3d0" stroke-width="2"/><line x1="1034.5" y1="360" x2="1034.5" y2="444" stroke="#000" stroke-width="0.6" opacity="0.12"/><line x1="1055.6" y1="360" x2="1055.6" y2="444" stroke="#000" stroke-width="0.6" opacity="0.12"/><line x1="1079.0" y1="360" x2="1079.0" y2="444" stroke="#000" stroke-width="0.6" opacity="0.12"/><line x1="1102.6" y1="360" x2="1102.6" y2="444" stroke="#000" stroke-width="0.6" opacity="0.12"/><line x1="1127.3" y1="360" x2="1127.3" y2="444" stroke="#000" stroke-width="0.6" opacity="0.12"/><line x1="1152.0" y1="360" x2="1152.0" y2="444" stroke="#000" stroke-width="0.6" opacity="0.12"/><line x1="1176.0" y1="360" x2="1176.0" y2="444" stroke="#000" stroke-width="0.6" opacity="0.12"/><line x1="998.2" y1="444" x2="998.2" y2="284" stroke="#3a3a3a" stroke-width="1.2"/><line x1="998.2" y1="444" x2="1220" y2="444" stroke="#3a3a3a" stroke-width="1.2"/><path d="M995 290 L998.2 283 L1001.4 290 M1213 441 L1220 444 L1213 447" fill="none" stroke="#3a3a3a" stroke-width="1.2"/><path d="M998.7 423 L1034.5 392.2 L1055.6 403.3 L1102.6 351.4 L1127.3 366.2 L1203 283" fill="none" stroke="#3a3a3a" stroke-width="7.5" stroke-linejoin="miter"/><path d="M998.7 423 L1034.5 392.2 L1055.6 403.3 L1102.6 351.4 L1127.3 366.2 L1203 283" fill="none" stroke="#5f918a" stroke-width="4.5" stroke-linejoin="miter"/><path d="M1191 274 L1214 268 L1209 294 Z" fill="#5f968e" stroke="#3a3a3a" stroke-width="1.4" stroke-linejoin="round"/><path d="M880 592 C950 600 1050 597 1110 600" stroke="#efd9bd" stroke-width="8" fill="none"/><path d="M901.8 576.0 L922.4 576.0 L928.2 572.5 L907.6 572.5 Z" fill="#4b8a8e" stroke="#3a3a3a" stroke-width="1.2" stroke-linejoin="round"/><rect x="901.8" y="576.0" width="20.6" height="19.0" fill="#4b8a8e" stroke="#3a3a3a" stroke-width="1.1"/><path d="M922.4 576.0 L928.2 572.5 L928.2 591.5 L922.4 595.0 Z" fill="#4b8a8e" stroke="#3a3a3a" stroke-width="1.1"/><path d="M922.4 576.0 L928.2 572.5 L928.2 591.5 L922.4 595.0 Z" fill="#000" fill-opacity="0.14"/><path d="M936.4 558.0 L956.1 558.0 L961.6 554.5 L941.9 554.5 Z" fill="#ec8142" stroke="#3a3a3a" stroke-width="1.2" stroke-linejoin="round"/><rect x="936.4" y="558.0" width="19.7" height="18.0" fill="#ec8142" stroke="#3a3a3a" stroke-width="1.1"/><path d="M956.1 558.0 L961.6 554.5 L961.6 572.5 L956.1 576.0 Z" fill="#ec8142" stroke="#3a3a3a" stroke-width="1.1"/><path d="M956.1 558.0 L961.6 554.5 L961.6 572.5 L956.1 576.0 Z" fill="#000" fill-opacity="0.14"/><rect x="936.4" y="576.0" width="19.7" height="19.0" fill="#89a148" stroke="#3a3a3a" stroke-width="1.1"/><path d="M956.1 576.0 L961.6 572.5 L961.6 591.5 L956.1 595.0 Z" fill="#89a148" stroke="#3a3a3a" stroke-width="1.1"/><path d="M956.1 576.0 L961.6 572.5 L961.6 591.5 L956.1 595.0 Z" fill="#000" fill-opacity="0.14"/><path d="M970.3 541.0 L990.5 541.0 L996.2 537.5 L976.0 537.5 Z" fill="#f2b04a" stroke="#3a3a3a" stroke-width="1.2" stroke-linejoin="round"/><rect x="970.3" y="541.0" width="20.2" height="9.0" fill="#f2b04a" stroke="#3a3a3a" stroke-width="1.1"/><path d="M990.5 541.0 L996.2 537.5 L996.2 546.5 L990.5 550.0 Z" fill="#f2b04a" stroke="#3a3a3a" stroke-width="1.1"/><path d="M990.5 541.0 L996.2 537.5 L996.2 546.5 L990.5 550.0 Z" fill="#000" fill-opacity="0.14"/><rect x="970.3" y="550.0" width="20.2" height="16.0" fill="#ec8142" stroke="#3a3a3a" stroke-width="1.1"/><path d="M990.5 550.0 L996.2 546.5 L996.2 562.5 L990.5 566.0 Z" fill="#ec8142" stroke="#3a3a3a" stroke-width="1.1"/><path d="M990.5 550.0 L996.2 546.5 L996.2 562.5 L990.5 566.0 Z" fill="#000" fill-opacity="0.14"/><rect x="970.3" y="566.0" width="20.2" height="30.0" fill="#4b8a8e" stroke="#3a3a3a" stroke-width="1.1"/><path d="M990.5 566.0 L996.2 562.5 L996.2 592.5 L990.5 596.0 Z" fill="#4b8a8e" stroke="#3a3a3a" stroke-width="1.1"/><path d="M990.5 566.0 L996.2 562.5 L996.2 592.5 L990.5 596.0 Z" fill="#000" fill-opacity="0.14"/><path d="M1006.0 514.0 L1026.3 514.0 L1032.0 510.5 L1011.7 510.5 Z" fill="#89a148" stroke="#3a3a3a" stroke-width="1.2" stroke-linejoin="round"/><rect x="1006.0" y="514.0" width="20.3" height="19.0" fill="#89a148" stroke="#3a3a3a" stroke-width="1.1"/><path d="M1026.3 514.0 L1032.0 510.5 L1032.0 529.5 L1026.3 533.0 Z" fill="#89a148" stroke="#3a3a3a" stroke-width="1.1"/><path d="M1026.3 514.0 L1032.0 510.5 L1032.0 529.5 L1026.3 533.0 Z" fill="#000" fill-opacity="0.14"/><rect x="1006.0" y="533.0" width="20.3" height="31.0" fill="#ec8142" stroke="#3a3a3a" stroke-width="1.1"/><path d="M1026.3 533.0 L1032.0 529.5 L1032.0 560.5 L1026.3 564.0 Z" fill="#ec8142" stroke="#3a3a3a" stroke-width="1.1"/><path d="M1026.3 533.0 L1032.0 529.5 L1032.0 560.5 L1026.3 564.0 Z" fill="#000" fill-opacity="0.14"/><rect x="1006.0" y="564.0" width="20.3" height="32.0" fill="#89a148" stroke="#3a3a3a" stroke-width="1.1"/><path d="M1026.3 564.0 L1032.0 560.5 L1032.0 592.5 L1026.3 596.0 Z" fill="#89a148" stroke="#3a3a3a" stroke-width="1.1"/><path d="M1026.3 564.0 L1032.0 560.5 L1032.0 592.5 L1026.3 596.0 Z" fill="#000" fill-opacity="0.14"/><path d="M1042.0 491.0 L1062.3 491.0 L1068.0 487.5 L1047.7 487.5 Z" fill="#f2b04a" stroke="#3a3a3a" stroke-width="1.2" stroke-linejoin="round"/><rect x="1042.0" y="491.0" width="20.3" height="29.0" fill="#f2b04a" stroke="#3a3a3a" stroke-width="1.1"/><path d="M1062.3 491.0 L1068.0 487.5 L1068.0 516.5 L1062.3 520.0 Z" fill="#f2b04a" stroke="#3a3a3a" stroke-width="1.1"/><path d="M1062.3 491.0 L1068.0 487.5 L1068.0 516.5 L1062.3 520.0 Z" fill="#000" fill-opacity="0.14"/><rect x="1042.0" y="520.0" width="20.3" height="30.0" fill="#ec8142" stroke="#3a3a3a" stroke-width="1.1"/><path d="M1062.3 520.0 L1068.0 516.5 L1068.0 546.5 L1062.3 550.0 Z" fill="#ec8142" stroke="#3a3a3a" stroke-width="1.1"/><path d="M1062.3 520.0 L1068.0 516.5 L1068.0 546.5 L1062.3 550.0 Z" fill="#000" fill-opacity="0.14"/><rect x="1042.0" y="550.0" width="20.3" height="45.0" fill="#4b8a8e" stroke="#3a3a3a" stroke-width="1.1"/><path d="M1062.3 550.0 L1068.0 546.5 L1068.0 591.5 L1062.3 595.0 Z" fill="#4b8a8e" stroke="#3a3a3a" stroke-width="1.1"/><path d="M1062.3 550.0 L1068.0 546.5 L1068.0 591.5 L1062.3 595.0 Z" fill="#000" fill-opacity="0.14"/><path d="M1078.0 477.0 L1098.1 477.0 L1103.8 473.5 L1083.7 473.5 Z" fill="#89a148" stroke="#3a3a3a" stroke-width="1.2" stroke-linejoin="round"/><rect x="1078.0" y="477.0" width="20.1" height="33.0" fill="#89a148" stroke="#3a3a3a" stroke-width="1.1"/><path d="M1098.1 477.0 L1103.8 473.5 L1103.8 506.5 L1098.1 510.0 Z" fill="#89a148" stroke="#3a3a3a" stroke-width="1.1"/><path d="M1098.1 477.0 L1103.8 473.5 L1103.8 506.5 L1098.1 510.0 Z" fill="#000" fill-opacity="0.14"/><rect x="1078.0" y="510.0" width="20.1" height="32.0" fill="#ec8142" stroke="#3a3a3a" stroke-width="1.1"/><path d="M1098.1 510.0 L1103.8 506.5 L1103.8 538.5 L1098.1 542.0 Z" fill="#ec8142" stroke="#3a3a3a" stroke-width="1.1"/><path d="M1098.1 510.0 L1103.8 506.5 L1103.8 538.5 L1098.1 542.0 Z" fill="#000" fill-opacity="0.14"/><rect x="1078.0" y="542.0" width="20.1" height="53.0" fill="#4b8a8e" stroke="#3a3a3a" stroke-width="1.1"/><path d="M1098.1 542.0 L1103.8 538.5 L1103.8 591.5 L1098.1 595.0 Z" fill="#4b8a8e" stroke="#3a3a3a" stroke-width="1.1"/><path d="M1098.1 542.0 L1103.8 538.5 L1103.8 591.5 L1098.1 595.0 Z" fill="#000" fill-opacity="0.14"/><path d="M1112.4 452.0 L1128.2 452.0 L1132.7 448.5 L1116.9 448.5 Z" fill="#f2b04a" stroke="#3a3a3a" stroke-width="1.2" stroke-linejoin="round"/><rect x="1112.4" y="452.0" width="15.8" height="37.0" fill="#f2b04a" stroke="#3a3a3a" stroke-width="1.1"/><path d="M1128.2 452.0 L1132.7 448.5 L1132.7 485.5 L1128.2 489.0 Z" fill="#f2b04a" stroke="#3a3a3a" stroke-width="1.1"/><path d="M1128.2 452.0 L1132.7 448.5 L1132.7 485.5 L1128.2 489.0 Z" fill="#000" fill-opacity="0.14"/><rect x="1112.4" y="489.0" width="15.8" height="30.0" fill="#ec8142" stroke="#3a3a3a" stroke-width="1.1"/><path d="M1128.2 489.0 L1132.7 485.5 L1132.7 515.5 L1128.2 519.0 Z" fill="#ec8142" stroke="#3a3a3a" stroke-width="1.1"/><path d="M1128.2 489.0 L1132.7 485.5 L1132.7 515.5 L1128.2 519.0 Z" fill="#000" fill-opacity="0.14"/><rect x="1112.4" y="519.0" width="15.8" height="46.0" fill="#4b8a8e" stroke="#3a3a3a" stroke-width="1.1"/><path d="M1128.2 519.0 L1132.7 515.5 L1132.7 561.5 L1128.2 565.0 Z" fill="#4b8a8e" stroke="#3a3a3a" stroke-width="1.1"/><path d="M1128.2 519.0 L1132.7 515.5 L1132.7 561.5 L1128.2 565.0 Z" fill="#000" fill-opacity="0.14"/><path d="M1141.6 421.5 L1163.6 421.5 L1169.8 418.0 L1147.8 418.0 Z" fill="#f2b04a" stroke="#3a3a3a" stroke-width="1.2" stroke-linejoin="round"/><rect x="1141.6" y="421.5" width="22.0" height="43.0" fill="#f2b04a" stroke="#3a3a3a" stroke-width="1.1"/><path d="M1163.6 421.5 L1169.8 418.0 L1169.8 461.0 L1163.6 464.5 Z" fill="#f2b04a" stroke="#3a3a3a" stroke-width="1.1"/><path d="M1163.6 421.5 L1169.8 418.0 L1169.8 461.0 L1163.6 464.5 Z" fill="#000" fill-opacity="0.14"/><rect x="1141.6" y="464.5" width="22.0" height="30.0" fill="#ec8142" stroke="#3a3a3a" stroke-width="1.1"/><path d="M1163.6 464.5 L1169.8 461.0 L1169.8 491.0 L1163.6 494.5 Z" fill="#ec8142" stroke="#3a3a3a" stroke-width="1.1"/><path d="M1163.6 464.5 L1169.8 461.0 L1169.8 491.0 L1163.6 494.5 Z" fill="#000" fill-opacity="0.14"/><rect x="1141.6" y="494.5" width="22.0" height="65.0" fill="#4b8a8e" stroke="#3a3a3a" stroke-width="1.1"/><path d="M1163.6 494.5 L1169.8 491.0 L1169.8 556.0 L1163.6 559.5 Z" fill="#4b8a8e" stroke="#3a3a3a" stroke-width="1.1"/><path d="M1163.6 494.5 L1169.8 491.0 L1169.8 556.0 L1163.6 559.5 Z" fill="#000" fill-opacity="0.14"/><line x1="880" y1="416" x2="892" y2="416" stroke="#3a3a3a" stroke-width="1.2"/><circle cx="879" cy="416" r="2.2" fill="#cfd4d4" stroke="#3a3a3a" stroke-width="0.9"/><line x1="941" y1="416" x2="953" y2="416" stroke="#3a3a3a" stroke-width="1.2"/><line x1="880" y1="430" x2="892" y2="430" stroke="#3a3a3a" stroke-width="1.2"/><circle cx="879" cy="430" r="2.2" fill="#cfd4d4" stroke="#3a3a3a" stroke-width="0.9"/><line x1="941" y1="430" x2="953" y2="430" stroke="#3a3a3a" stroke-width="1.2"/><line x1="880" y1="444" x2="892" y2="444" stroke="#3a3a3a" stroke-width="1.2"/><circle cx="879" cy="444" r="2.2" fill="#cfd4d4" stroke="#3a3a3a" stroke-width="0.9"/><line x1="941" y1="444" x2="953" y2="444" stroke="#3a3a3a" stroke-width="1.2"/><line x1="880" y1="458" x2="892" y2="458" stroke="#3a3a3a" stroke-width="1.2"/><circle cx="879" cy="458" r="2.2" fill="#cfd4d4" stroke="#3a3a3a" stroke-width="0.9"/><line x1="941" y1="458" x2="953" y2="458" stroke="#3a3a3a" stroke-width="1.2"/><line x1="905.0" y1="391" x2="905.0" y2="408" stroke="#3a3a3a" stroke-width="1.2"/><circle cx="905.0" cy="391" r="2.2" fill="#cfd4d4" stroke="#3a3a3a" stroke-width="0.9"/><line x1="905.0" y1="459" x2="905.0" y2="476" stroke="#3a3a3a" stroke-width="1.2"/><circle cx="905.0" cy="476" r="2.2" fill="#cfd4d4" stroke="#3a3a3a" stroke-width="0.9"/><line x1="914.0" y1="391" x2="914.0" y2="408" stroke="#3a3a3a" stroke-width="1.2"/><circle cx="914.0" cy="391" r="2.2" fill="#cfd4d4" stroke="#3a3a3a" stroke-width="0.9"/><line x1="914.0" y1="459" x2="914.0" y2="476" stroke="#3a3a3a" stroke-width="1.2"/><circle cx="914.0" cy="476" r="2.2" fill="#cfd4d4" stroke="#3a3a3a" stroke-width="0.9"/><line x1="923.0" y1="391" x2="923.0" y2="408" stroke="#3a3a3a" stroke-width="1.2"/><circle cx="923.0" cy="391" r="2.2" fill="#cfd4d4" stroke="#3a3a3a" stroke-width="0.9"/><line x1="923.0" y1="459" x2="923.0" y2="476" stroke="#3a3a3a" stroke-width="1.2"/><circle cx="923.0" cy="476" r="2.2" fill="#cfd4d4" stroke="#3a3a3a" stroke-width="0.9"/><line x1="932.0" y1="391" x2="932.0" y2="408" stroke="#3a3a3a" stroke-width="1.2"/><circle cx="932.0" cy="391" r="2.2" fill="#cfd4d4" stroke="#3a3a3a" stroke-width="0.9"/><line x1="932.0" y1="459" x2="932.0" y2="476" stroke="#3a3a3a" stroke-width="1.2"/><circle cx="932.0" cy="476" r="2.2" fill="#cfd4d4" stroke="#3a3a3a" stroke-width="0.9"/><rect x="892.7" y="407" width="50" height="52" rx="4" fill="#5e8d92" stroke="#3a3a3a" stroke-width="1.6"/><rect x="897" y="411" width="41.5" height="43.5" rx="3" fill="none" stroke="#8fb2b2" stroke-width="1"/><rect x="907" y="422" width="21" height="21" rx="2" fill="#8ab4b4" stroke="#3a3a3a" stroke-width="1.3"/><path d="M851.7 459.6 L850.9 462.5 L857.3 466.6 L853.9 472.5 L847.2 469.1 L842.7 473.0 L842.7 473.0 L840.1 474.5 L841.6 481.9 L835.1 483.7 L832.7 476.5 L826.8 476.1 L826.8 476.1 L823.9 475.3 L819.8 481.7 L813.9 478.3 L817.3 471.6 L813.4 467.1 L813.4 467.1 L811.9 464.5 L804.5 466.0 L802.7 459.5 L809.9 457.1 L810.3 451.2 L810.3 451.2 L811.1 448.3 L804.7 444.2 L808.1 438.3 L814.8 441.7 L819.3 437.8 L819.3 437.8 L821.9 436.3 L820.4 428.9 L826.9 427.1 L829.3 434.3 L835.2 434.7 L835.2 434.7 L838.1 435.5 L842.2 429.1 L848.1 432.5 L844.7 439.2 L848.6 443.7 L848.6 443.7 L850.1 446.3 L857.5 444.8 L859.3 451.3 L852.1 453.7 L851.7 459.6 Z" fill="#8c9ea5" stroke="#3a3a3a" stroke-width="1.5" stroke-linejoin="round"/><circle cx="831.0" cy="455.4" r="19.3" fill="none" stroke="#000" stroke-opacity="0.18" stroke-width="3"/><circle cx="831.0" cy="455.4" r="14.3" fill="#fff" stroke="#3a3a3a" stroke-width="1.5"/><path d="M804 488 C822 470 865 462 905 476 C924 484 936 496 938 503 C933 516 912 529 880 530 C842 531 815 516 804 500 Z" fill="url(#fishg)" stroke="#3a3a3a" stroke-width="1.6"/><path d="M806 491 L776 461 C788 478 792 490 788 502 L776 520 L806 499 Z" fill="#6b9294" stroke="#3a3a3a" stroke-width="1.5" stroke-linejoin="round"/><path d="M823 474 C835 455 860 452 876 470 Z" fill="#6b9294" stroke="#3a3a3a" stroke-width="1.3"/><path d="M819 514 C823 526 834 530 842 522 Z M868 526 C872 538 885 540 890 530 Z M868 512 C880 518 893 518 896 512 Z" fill="#6b9294" stroke="#3a3a3a" stroke-width="1.2"/><circle cx="918.6" cy="498.2" r="3.8" fill="#fff" stroke="#3a3a3a" stroke-width="1.2"/><circle cx="919" cy="498.2" r="1.6" fill="#222"/><path d="M904 478 C912 492 912 510 902 524" fill="none" stroke="#4a6a6a" stroke-width="1.1"/><path d="M930 505 L937 504" stroke="#333" stroke-width="1.2"/><path d="M600 592 C680 578 820 576 905 598 C860 612 700 612 600 606 Z" fill="#efd8b6"/><path d="M440 600 C470 596 520 606 560 608" stroke="#efd8b6" stroke-width="5" fill="none"/><path d="M469.0 567.7 L504.5 580.9 L504.5 611.4 L469.0 598.2 Z" fill="#d4967c" stroke="#3a3a3a" stroke-width="1.3" stroke-linejoin="round"/><path d="M504.5 580.9 L542.4 573.5 L542.4 604.0 L504.5 611.4 Z" fill="#c98a72" stroke="#3a3a3a" stroke-width="1.3" stroke-linejoin="round"/><path d="M469.0 567.7 L504.5 580.9 L542.4 573.5 L506.9 560.3 Z" fill="#d99c84" stroke="#3a3a3a" stroke-width="1.3" stroke-linejoin="round"/><path d="M470.0 572.8 L504.5 586.0 L541.4 578.6" fill="none" stroke="#3a4a3a" stroke-opacity="0.35" stroke-width="0.9"/><path d="M470.0 577.9 L504.5 591.1 L541.4 583.7" fill="none" stroke="#3a4a3a" stroke-opacity="0.35" stroke-width="0.9"/><path d="M470.0 583.0 L504.5 596.1 L541.4 588.8" fill="none" stroke="#3a4a3a" stroke-opacity="0.35" stroke-width="0.9"/><path d="M470.0 588.0 L504.5 601.2 L541.4 593.8" fill="none" stroke="#3a4a3a" stroke-opacity="0.35" stroke-width="0.9"/><path d="M470.0 593.1 L504.5 606.3 L541.4 598.9" fill="none" stroke="#3a4a3a" stroke-opacity="0.35" stroke-width="0.9"/><path d="M469.1 541.3 L501.2 556.3 L501.2 576.3 L469.1 561.3 Z" fill="#9db066" stroke="#3a3a3a" stroke-width="1.3" stroke-linejoin="round"/><path d="M501.2 556.3 L596.8 537.3 L596.8 557.3 L501.2 576.3 Z" fill="#98ab62" stroke="#3a3a3a" stroke-width="1.3" stroke-linejoin="round"/><path d="M469.1 541.3 L501.2 556.3 L596.8 537.3 L564.7 522.3 Z" fill="#a8b96e" stroke="#3a3a3a" stroke-width="1.3" stroke-linejoin="round"/><path d="M470.1 546.3 L501.2 561.3 L595.8 542.3" fill="none" stroke="#3a4a3a" stroke-opacity="0.35" stroke-width="0.9"/><path d="M470.1 551.3 L501.2 566.3 L595.8 547.3" fill="none" stroke="#3a4a3a" stroke-opacity="0.35" stroke-width="0.9"/><path d="M470.1 556.3 L501.2 571.3 L595.8 552.3" fill="none" stroke="#3a4a3a" stroke-opacity="0.35" stroke-width="0.9"/><path d="M547.1 547.2 L560.5 544.5 L560.5 564.5 L547.1 567.2 Z" fill="#f0dcc0" stroke="#3a3a3a" stroke-width="1"/><path d="M547.1 547.2 L560.5 544.5 L528.4 529.5 L515.0 532.2 Z" fill="#f0dcc0" stroke="#3a3a3a" stroke-width="1"/><path d="M542.4 573.5 L573.7 591.7 L573.7 617.7 L542.4 599.5 Z" fill="#9dbdab" stroke="#3a3a3a" stroke-width="1.3" stroke-linejoin="round"/><path d="M573.7 591.7 L670.2 565.3 L670.2 591.3 L573.7 617.7 Z" fill="#a9b4b4" stroke="#3a3a3a" stroke-width="1.3" stroke-linejoin="round"/><path d="M542.4 573.5 L573.7 591.7 L670.2 565.3 L638.9 547.1 Z" fill="#a9ccb8" stroke="#3a3a3a" stroke-width="1.3" stroke-linejoin="round"/><path d="M543.4 578.7 L573.7 596.9 L669.2 570.5" fill="none" stroke="#3a4a3a" stroke-opacity="0.35" stroke-width="0.9"/><path d="M543.4 583.9 L573.7 602.1 L669.2 575.7" fill="none" stroke="#3a4a3a" stroke-opacity="0.35" stroke-width="0.9"/><path d="M543.4 589.1 L573.7 607.3 L669.2 580.9" fill="none" stroke="#3a4a3a" stroke-opacity="0.35" stroke-width="0.9"/><path d="M543.4 594.3 L573.7 612.5 L669.2 586.1" fill="none" stroke="#3a4a3a" stroke-opacity="0.35" stroke-width="0.9"/><path d="M623.9 578.0 L637.4 574.3 L637.4 600.3 L623.9 604.0 Z" fill="#f0dcc0" stroke="#3a3a3a" stroke-width="1"/><path d="M623.9 578.0 L637.4 574.3 L606.1 556.1 L592.6 559.8 Z" fill="#f0dcc0" stroke="#3a3a3a" stroke-width="1"/><path d="M674.4 554.5 L700.0 566.3 L700.0 594.3 L674.4 582.5 Z" fill="#9cbcaa" stroke="#3a3a3a" stroke-width="1.3" stroke-linejoin="round"/><path d="M700.0 566.3 L758.6 557.0 L758.6 585.0 L700.0 594.3 Z" fill="#acb2b8" stroke="#3a3a3a" stroke-width="1.3" stroke-linejoin="round"/><path d="M674.4 554.5 L700.0 566.3 L758.6 557.0 L733.0 545.2 Z" fill="#a6c8b2" stroke="#3a3a3a" stroke-width="1.3" stroke-linejoin="round"/><path d="M675.4 559.2 L700.0 571.0 L757.6 561.7" fill="none" stroke="#3a4a3a" stroke-opacity="0.35" stroke-width="0.9"/><path d="M675.4 563.8 L700.0 575.6 L757.6 566.3" fill="none" stroke="#3a4a3a" stroke-opacity="0.35" stroke-width="0.9"/><path d="M675.4 568.5 L700.0 580.3 L757.6 571.0" fill="none" stroke="#3a4a3a" stroke-opacity="0.35" stroke-width="0.9"/><path d="M675.4 573.2 L700.0 585.0 L757.6 575.7" fill="none" stroke="#3a4a3a" stroke-opacity="0.35" stroke-width="0.9"/><path d="M675.4 577.8 L700.0 589.6 L757.6 580.3" fill="none" stroke="#3a4a3a" stroke-opacity="0.35" stroke-width="0.9"/><path d="M726.4 562.1 L734.6 560.8 L734.6 588.8 L726.4 590.1 Z" fill="#f0dcc0" stroke="#3a3a3a" stroke-width="1"/><path d="M726.4 562.1 L734.6 560.8 L709.0 549.0 L700.8 550.3 Z" fill="#f0dcc0" stroke="#3a3a3a" stroke-width="1"/><path d="M768.3 564.0 L793.5 572.5 L793.5 606.5 L768.3 598.0 Z" fill="#9cbcaa" stroke="#3a3a3a" stroke-width="1.3" stroke-linejoin="round"/><path d="M793.5 572.5 L890.5 552.0 L890.5 586.0 L793.5 606.5 Z" fill="#a9b8b4" stroke="#3a3a3a" stroke-width="1.3" stroke-linejoin="round"/><path d="M768.3 564.0 L793.5 572.5 L890.5 552.0 L865.3 543.5 Z" fill="#a6c8b2" stroke="#3a3a3a" stroke-width="1.3" stroke-linejoin="round"/><path d="M769.3 568.9 L793.5 577.4 L889.5 556.9" fill="none" stroke="#3a4a3a" stroke-opacity="0.35" stroke-width="0.9"/><path d="M769.3 573.7 L793.5 582.2 L889.5 561.7" fill="none" stroke="#3a4a3a" stroke-opacity="0.35" stroke-width="0.9"/><path d="M769.3 578.6 L793.5 587.1 L889.5 566.6" fill="none" stroke="#3a4a3a" stroke-opacity="0.35" stroke-width="0.9"/><path d="M769.3 583.4 L793.5 591.9 L889.5 571.4" fill="none" stroke="#3a4a3a" stroke-opacity="0.35" stroke-width="0.9"/><path d="M769.3 588.3 L793.5 596.8 L889.5 576.3" fill="none" stroke="#3a4a3a" stroke-opacity="0.35" stroke-width="0.9"/><path d="M769.3 593.1 L793.5 601.6 L889.5 581.1" fill="none" stroke="#3a4a3a" stroke-opacity="0.35" stroke-width="0.9"/><path d="M842.0 562.2 L855.6 559.4 L855.6 593.4 L842.0 596.2 Z" fill="#f0dcc0" stroke="#3a3a3a" stroke-width="1"/><path d="M842.0 562.2 L855.6 559.4 L830.4 550.9 L816.8 553.8 Z" fill="#f0dcc0" stroke="#3a3a3a" stroke-width="1"/><path d="M1104.0 583.0 L1127.0 595.0 L1127.0 615.0 L1104.0 603.0 Z" fill="#98ac96" stroke="#3a3a3a" stroke-width="1.3" stroke-linejoin="round"/><path d="M1127.0 595.0 L1229.0 573.0 L1229.0 593.0 L1127.0 615.0 Z" fill="#9cb09a" stroke="#3a3a3a" stroke-width="1.3" stroke-linejoin="round"/><path d="M1104.0 583.0 L1127.0 595.0 L1229.0 573.0 L1206.0 561.0 Z" fill="#a2b6a0" stroke="#3a3a3a" stroke-width="1.3" stroke-linejoin="round"/><path d="M1105.0 588.0 L1127.0 600.0 L1228.0 578.0" fill="none" stroke="#3a4a3a" stroke-opacity="0.35" stroke-width="0.9"/><path d="M1105.0 593.0 L1127.0 605.0 L1228.0 583.0" fill="none" stroke="#3a4a3a" stroke-opacity="0.35" stroke-width="0.9"/><path d="M1105.0 598.0 L1127.0 610.0 L1228.0 588.0" fill="none" stroke="#3a4a3a" stroke-opacity="0.35" stroke-width="0.9"/><path d="M1183.1 582.9 L1197.4 579.8 L1197.4 599.8 L1183.1 602.9 Z" fill="#f0dcc0" stroke="#3a3a3a" stroke-width="1"/><path d="M1183.1 582.9 L1197.4 579.8 L1174.4 567.8 L1160.1 570.9 Z" fill="#f0dcc0" stroke="#3a3a3a" stroke-width="1"/><path d="M1104.0 563.0 L1127.0 575.0 L1127.0 595.0 L1104.0 583.0 Z" fill="#9cb49e" stroke="#3a3a3a" stroke-width="1.3" stroke-linejoin="round"/><path d="M1127.0 575.0 L1229.0 553.0 L1229.0 573.0 L1127.0 595.0 Z" fill="#a6bca8" stroke="#3a3a3a" stroke-width="1.3" stroke-linejoin="round"/><path d="M1104.0 563.0 L1127.0 575.0 L1229.0 553.0 L1206.0 541.0 Z" fill="#a9c6ac" stroke="#3a3a3a" stroke-width="1.3" stroke-linejoin="round"/><path d="M1105.0 568.0 L1127.0 580.0 L1228.0 558.0" fill="none" stroke="#3a4a3a" stroke-opacity="0.35" stroke-width="0.9"/><path d="M1105.0 573.0 L1127.0 585.0 L1228.0 563.0" fill="none" stroke="#3a4a3a" stroke-opacity="0.35" stroke-width="0.9"/><path d="M1105.0 578.0 L1127.0 590.0 L1228.0 568.0" fill="none" stroke="#3a4a3a" stroke-opacity="0.35" stroke-width="0.9"/><path d="M1183.1 562.9 L1197.4 559.8 L1197.4 579.8 L1183.1 582.9 Z" fill="#f0dcc0" stroke="#3a3a3a" stroke-width="1"/><path d="M1183.1 562.9 L1197.4 559.8 L1174.4 547.8 L1160.1 550.9 Z" fill="#f0dcc0" stroke="#3a3a3a" stroke-width="1"/><path d="M629.1 492.0 L628.5 495.3 L636.0 499.2 L632.9 506.0 L625.0 503.0 L620.5 507.9 L620.5 507.9 L617.8 509.9 L620.3 518.0 L613.3 520.6 L609.8 512.9 L603.1 513.2 L603.1 513.2 L599.8 512.6 L595.9 520.1 L589.1 517.0 L592.1 509.1 L587.2 504.6 L587.2 504.6 L585.2 501.9 L577.1 504.4 L574.5 497.4 L582.2 493.9 L581.9 487.2 L581.9 487.2 L582.5 483.9 L575.0 480.0 L578.1 473.2 L586.0 476.2 L590.5 471.3 L590.5 471.3 L593.2 469.3 L590.7 461.2 L597.7 458.6 L601.2 466.3 L607.9 466.0 L607.9 466.0 L611.2 466.6 L615.1 459.1 L621.9 462.2 L618.9 470.1 L623.8 474.6 L623.8 474.6 L625.8 477.3 L633.9 474.8 L636.5 481.8 L628.8 485.3 L629.1 492.0 Z" fill="#8a9ca4" stroke="#3a3a3a" stroke-width="1.5" stroke-linejoin="round"/><circle cx="605.5" cy="489.6" r="19.5" fill="none" stroke="#000" stroke-opacity="0.18" stroke-width="3"/><circle cx="605.5" cy="489.6" r="14.5" fill="#fff" stroke="#3a3a3a" stroke-width="1.5"/><path d="M674.8 488.0 L674.1 490.0 L678.4 493.5 L675.5 497.6 L670.8 494.6 L667.3 497.1 L667.3 497.1 L665.2 498.0 L665.8 503.6 L661.0 504.4 L659.7 498.9 L655.4 498.2 L655.4 498.2 L653.4 497.5 L649.9 501.8 L645.8 498.9 L648.8 494.2 L646.3 490.7 L646.3 490.7 L645.4 488.6 L639.8 489.2 L639.0 484.4 L644.5 483.1 L645.2 478.8 L645.2 478.8 L645.9 476.8 L641.6 473.3 L644.5 469.2 L649.2 472.2 L652.7 469.7 L652.7 469.7 L654.8 468.8 L654.2 463.2 L659.0 462.4 L660.3 467.9 L664.6 468.6 L664.6 468.6 L666.6 469.3 L670.1 465.0 L674.2 467.9 L671.2 472.6 L673.7 476.1 L673.7 476.1 L674.6 478.2 L680.2 477.6 L681.0 482.4 L675.5 483.7 L674.8 488.0 Z" fill="#8f999c" stroke="#3a3a3a" stroke-width="1.5" stroke-linejoin="round"/><circle cx="660.0" cy="483.4" r="14.0" fill="none" stroke="#000" stroke-opacity="0.18" stroke-width="3"/><circle cx="660.0" cy="483.4" r="9.0" fill="#fff" stroke="#3a3a3a" stroke-width="1.5"/><path d="M663.6 531.7 L663.4 534.3 L669.5 536.7 L667.6 542.2 L661.3 540.5 L658.2 544.6 L658.2 544.6 L656.3 546.3 L658.9 552.3 L653.7 554.9 L650.4 549.3 L645.3 550.0 L645.3 550.0 L642.7 549.8 L640.3 555.9 L634.8 554.0 L636.5 547.7 L632.4 544.6 L632.4 544.6 L630.7 542.7 L624.7 545.3 L622.1 540.1 L627.7 536.8 L627.0 531.7 L627.0 531.7 L627.2 529.1 L621.1 526.7 L623.0 521.2 L629.3 522.9 L632.4 518.8 L632.4 518.8 L634.3 517.1 L631.7 511.1 L636.9 508.5 L640.2 514.1 L645.3 513.4 L645.3 513.4 L647.9 513.6 L650.3 507.5 L655.8 509.4 L654.1 515.7 L658.2 518.8 L658.2 518.8 L659.9 520.7 L665.9 518.1 L668.5 523.3 L662.9 526.6 L663.6 531.7 Z" fill="#a39886" stroke="#3a3a3a" stroke-width="1.5" stroke-linejoin="round"/><circle cx="645.3" cy="531.7" r="16.0" fill="none" stroke="#000" stroke-opacity="0.18" stroke-width="3"/><circle cx="645.3" cy="531.7" r="11.0" fill="#fff" stroke="#3a3a3a" stroke-width="1.5"/><path d="M431 525 L369 600" stroke="#3a3a3a" stroke-width="16.5" stroke-linecap="round"/><path d="M431 525 L369 600" stroke="#3e5358" stroke-width="13" stroke-linecap="round"/><path d="M437 518 L428 530" stroke="#8a8f8f" stroke-width="9" /><circle cx="466" cy="484.2" r="50.5" fill="#d8ebe8" stroke="#3a3a3a" stroke-width="2"/><circle cx="466" cy="484.2" r="46.5" fill="none" stroke="#7b7f80" stroke-width="6"/><circle cx="466" cy="484.2" r="31" fill="#f0913c" stroke="#3a3a3a" stroke-width="1.3"/><path d="M466 484 L468 453 A31 31 0 0 1 495 472 Z" fill="#f4b542" stroke="#fff" stroke-width="1.5"/><path d="M466 484 L495 472 A31 31 0 0 1 484 509 Z" fill="#e8733a" stroke="#fff" stroke-width="1.5"/><path d="M466 484 L484 509 A31 31 0 0 1 441 503 Z" fill="#4b9890" stroke="#fff" stroke-width="1.5"/></g><path d="M35.5 677.1 L94.0 715.6 Q101.5 720.6 94.0 725.6 L35.5 764.1 Q28.0 769.1 28.0 760.1 L28.0 681.1 Q28.0 672.1 35.5 677.1 Z" fill="none" stroke="#5ccb5a" stroke-width="3.8"/><path d="M10.5 670.1 L82 717.1 Q88 720.6 82 724.1 L10.5 771.1 Z" fill="#de1416" stroke="#b01010" stroke-width="0.6"/><text transform="translate(124.69 736.89) scale(0.6369 1)" font-size="52.74" fill="#0c5c10" stroke="#0c5c10" stroke-width="0.21" stroke-linejoin="round" style="font-weight:700;">TỐC ĐỘ TĂNG GDP QUÝ I SO VỚI CÙNG KỲ NĂM TRƯỚC QUA CÁC NĂM</text><path d="M35.5 1551.5 L94.0 1590.0 Q101.5 1595.0 94.0 1600.0 L35.5 1638.5 Q28.0 1643.5 28.0 1634.5 L28.0 1555.5 Q28.0 1546.5 35.5 1551.5 Z" fill="none" stroke="#5ccb5a" stroke-width="3.8"/><path d="M10.5 1544.5 L82 1591.5 Q88 1595.0 82 1598.5 L10.5 1645.5 Z" fill="#de1416" stroke="#b01010" stroke-width="0.6"/><text transform="translate(124.63 1610.89) scale(0.6591 1)" font-size="53.47" fill="#0c5c10" stroke="#0c5c10" stroke-width="0.22" stroke-linejoin="round" style="font-weight:700;">GDP THEO GIÁ SO SÁNH NĂM 2020</text><defs><linearGradient id="gold" x1="700" y1="1110" x2="750" y2="1420" gradientUnits="userSpaceOnUse"><stop offset="0" stop-color="#ffd900"/><stop offset="0.38" stop-color="#ffd900"/><stop offset="0.55" stop-color="#f6e23c"/><stop offset="0.75" stop-color="#eeed98"/><stop offset="0.9" stop-color="#e5f7c6"/><stop offset="1" stop-color="#e0fbd4"/></linearGradient></defs><path d="M139.0 1391.5 L139.0 1202.0 231.0 1104.0 324.0 1024.0 417.5 1108.0 509.5 1143.5 604.0 849.0 695.5 927.0 789.5 1366.0 881.5 1182.0 975.5 1117.0 1068.5 1335.0 1161.5 1051.5 1254.0 930.0 1349.0 843.5 L1349.0 1391.5 Z" fill="url(#gold)"/><line x1="139.0" y1="1202.0" x2="139.0" y2="1391.5" stroke="#8a8a6a" stroke-width="1.3"/><line x1="231.0" y1="1104.0" x2="231.0" y2="1391.5" stroke="#8a8a6a" stroke-width="1.3"/><line x1="324.0" y1="1024.0" x2="324.0" y2="1391.5" stroke="#8a8a6a" stroke-width="1.3"/><line x1="417.5" y1="1108.0" x2="417.5" y2="1391.5" stroke="#8a8a6a" stroke-width="1.3"/><line x1="509.5" y1="1143.5" x2="509.5" y2="1391.5" stroke="#8a8a6a" stroke-width="1.3"/><line x1="604.0" y1="849.0" x2="604.0" y2="1391.5" stroke="#8a8a6a" stroke-width="1.3"/><line x1="695.5" y1="927.0" x2="695.5" y2="1391.5" stroke="#8a8a6a" stroke-width="1.3"/><line x1="789.5" y1="1366.0" x2="789.5" y2="1391.5" stroke="#8a8a6a" stroke-width="1.3"/><line x1="881.5" y1="1182.0" x2="881.5" y2="1391.5" stroke="#8a8a6a" stroke-width="1.3"/><line x1="975.5" y1="1117.0" x2="975.5" y2="1391.5" stroke="#8a8a6a" stroke-width="1.3"/><line x1="1068.5" y1="1335.0" x2="1068.5" y2="1391.5" stroke="#8a8a6a" stroke-width="1.3"/><line x1="1161.5" y1="1051.5" x2="1161.5" y2="1391.5" stroke="#8a8a6a" stroke-width="1.3"/><line x1="1254.0" y1="930.0" x2="1254.0" y2="1391.5" stroke="#8a8a6a" stroke-width="1.3"/><line x1="1349.0" y1="843.5" x2="1349.0" y2="1391.5" stroke="#8a8a6a" stroke-width="1.3"/><line x1="91" y1="1391.5" x2="1396" y2="1391.5" stroke="#111" stroke-width="2"/><polyline points="139.0 1202.0 231.0 1104.0 324.0 1024.0 417.5 1108.0 509.5 1143.5 604.0 849.0 695.5 927.0 789.5 1366.0 881.5 1182.0 975.5 1117.0 1068.5 1335.0 1161.5 1051.5 1254.0 930.0 1349.0 843.5" fill="none" stroke="#bc0710" stroke-width="8.5" stroke-linejoin="miter" stroke-miterlimit="3" stroke-linecap="round"/><text transform="translate(82.57 1167.91) scale(0.7697 1)" font-size="42.63" fill="#0b6510" stroke="#0b6510" stroke-width="0.17" stroke-linejoin="round" style="font-weight:700;">4,68%</text><text transform="translate(189.07 1085.31) scale(0.7574 1)" font-size="42.63" fill="#0b6510" stroke="#0b6510" stroke-width="0.17" stroke-linejoin="round" style="font-weight:700;">5,54</text><text transform="translate(292.35 999.21) scale(0.7774 1)" font-size="42.63" fill="#0b6510" stroke="#0b6510" stroke-width="0.17" stroke-linejoin="round" style="font-weight:700;">6,25</text><text transform="translate(386.85 1083.41) scale(0.7726 1)" font-size="42.63" fill="#0b6510" stroke="#0b6510" stroke-width="0.17" stroke-linejoin="round" style="font-weight:700;">5,49</text><text transform="translate(497.97 1189.71) scale(0.7579 1)" font-size="42.63" fill="#0b6510" stroke="#0b6510" stroke-width="0.17" stroke-linejoin="round" style="font-weight:700;">5,17</text><text transform="translate(573.27 827.81) scale(0.7625 1)" font-size="42.63" fill="#0b6510" stroke="#0b6510" stroke-width="0.17" stroke-linejoin="round" style="font-weight:700;">7,78</text><text transform="translate(702.26 910.31) scale(0.7701 1)" font-size="42.63" fill="#0b6510" stroke="#0b6510" stroke-width="0.17" stroke-linejoin="round" style="font-weight:700;">7,09</text><text transform="translate(716.34 1381.61) scale(0.7410 1)" font-size="42.63" fill="#0b6510" stroke="#0b6510" stroke-width="0.17" stroke-linejoin="round" style="font-weight:700;">3,21</text><text transform="translate(830.07 1167.91) scale(0.7601 1)" font-size="42.63" fill="#0b6510" stroke="#0b6510" stroke-width="0.17" stroke-linejoin="round" style="font-weight:700;">4,85</text><text transform="translate(951.75 1099.91) scale(0.7726 1)" font-size="42.63" fill="#0b6510" stroke="#0b6510" stroke-width="0.17" stroke-linejoin="round" style="font-weight:700;">5,42</text><text transform="translate(1046.82 1381.61) scale(0.7628 1)" font-size="42.63" fill="#0b6510" stroke="#0b6510" stroke-width="0.17" stroke-linejoin="round" style="font-weight:700;">3,46</text><text transform="translate(1101.46 1036.61) scale(0.7700 1)" font-size="42.63" fill="#0b6510" stroke="#0b6510" stroke-width="0.17" stroke-linejoin="round" style="font-weight:700;">5,98</text><text transform="translate(1198.51 919.51) scale(0.7415 1)" font-size="42.63" fill="#0b6510" stroke="#0b6510" stroke-width="0.17" stroke-linejoin="round" style="font-weight:700;">7,07</text><text transform="translate(1284.29 826.70) scale(0.8237 1)" font-size="50.58" fill="#d8141c" stroke="#d8141c" stroke-width="0.20" stroke-linejoin="round" style="font-weight:700;">7,83%</text><text transform="translate(1403.95 824.80) scale(1.0015 1)" font-size="51.30" fill="#0b6510" stroke="#0b6510" stroke-width="0.21" stroke-linejoin="round" style="font-weight:700;">*</text><text transform="translate(104.54 1443.61) scale(0.7344 1)" font-size="41.76" fill="#111" stroke="#111" stroke-width="0.77" stroke-linejoin="round" style="font-weight:400;">2013</text><text transform="translate(197.72 1443.61) scale(0.7472 1)" font-size="41.76" fill="#111" stroke="#111" stroke-width="0.77" stroke-linejoin="round" style="font-weight:400;">2014</text><text transform="translate(290.94 1443.61) scale(0.7349 1)" font-size="41.76" fill="#111" stroke="#111" stroke-width="0.77" stroke-linejoin="round" style="font-weight:400;">2015</text><text transform="translate(385.16 1443.61) scale(0.7244 1)" font-size="41.76" fill="#111" stroke="#111" stroke-width="0.77" stroke-linejoin="round" style="font-weight:400;">2016</text><text transform="translate(475.81 1443.61) scale(0.7512 1)" font-size="41.76" fill="#111" stroke="#111" stroke-width="0.77" stroke-linejoin="round" style="font-weight:400;">2017</text><text transform="translate(569.72 1443.61) scale(0.7454 1)" font-size="41.76" fill="#111" stroke="#111" stroke-width="0.77" stroke-linejoin="round" style="font-weight:400;">2018</text><text transform="translate(662.60 1443.61) scale(0.7579 1)" font-size="41.76" fill="#111" stroke="#111" stroke-width="0.77" stroke-linejoin="round" style="font-weight:400;">2019</text><text transform="translate(755.51 1443.61) scale(0.7539 1)" font-size="41.76" fill="#111" stroke="#111" stroke-width="0.77" stroke-linejoin="round" style="font-weight:400;">2020</text><text transform="translate(848.72 1443.61) scale(0.7484 1)" font-size="41.76" fill="#111" stroke="#111" stroke-width="0.77" stroke-linejoin="round" style="font-weight:400;">2021</text><text transform="translate(942.32 1443.61) scale(0.7467 1)" font-size="41.76" fill="#111" stroke="#111" stroke-width="0.77" stroke-linejoin="round" style="font-weight:400;">2022</text><text transform="translate(1035.12 1443.61) scale(0.7445 1)" font-size="41.76" fill="#111" stroke="#111" stroke-width="0.77" stroke-linejoin="round" style="font-weight:400;">2023</text><text transform="translate(1128.71 1443.61) scale(0.7516 1)" font-size="41.76" fill="#111" stroke="#111" stroke-width="0.77" stroke-linejoin="round" style="font-weight:400;">2024</text><text transform="translate(1221.62 1443.61) scale(0.7471 1)" font-size="41.76" fill="#111" stroke="#111" stroke-width="0.77" stroke-linejoin="round" style="font-weight:400;">2025</text><text transform="translate(1315.12 1443.61) scale(0.7489 1)" font-size="41.76" fill="#111" stroke="#111" stroke-width="0.77" stroke-linejoin="round" style="font-weight:400;">2026</text><text transform="translate(1305.61 1598.69) scale(0.6763 1)" font-size="43.88" fill="#111" stroke="#111" stroke-width="0.81" stroke-linejoin="round" style="font-weight:400;">Tốc độ tăng</text><text transform="translate(1229.34 1652.10) scale(0.6981 1)" font-size="43.17" fill="#111" stroke="#111" stroke-width="0.80" stroke-linejoin="round" style="font-weight:400;">so với quý I/2025</text><text transform="translate(117.14 1769.25) scale(0.5992 1)" font-size="70.21" fill="#c50b13" stroke="#c50b13" stroke-width="1.30" stroke-linejoin="round" style="font-weight:400;">TỔNG SỐ</text><text transform="translate(43.28 1884.81) scale(0.8289 1)" font-size="92.92" fill="#c50b13" stroke="#c50b13" stroke-width="0.37" stroke-linejoin="round" style="font-weight:700;">2.589.918</text><text transform="translate(127.49 1973.89) scale(0.8013 1)" font-size="66.53" fill="#c50b13" stroke="#c50b13" stroke-width="1.23" stroke-linejoin="round" style="font-weight:400;">tỷ đồng</text><text transform="translate(67.53 2110.65) scale(0.6208 1)" font-size="70.07" fill="#137a14" stroke="#137a14" stroke-width="1.30" stroke-linejoin="round" style="font-weight:400;">TĂNG</text><text transform="translate(200.47 2111.16) scale(0.7954 1)" font-size="71.53" fill="#137a14" stroke="#137a14" stroke-width="0.29" stroke-linejoin="round" style="font-weight:700;">7,83%</text><text transform="translate(151.13 2197.09) scale(0.7073 1)" font-size="66.53" fill="#137a14" stroke="#137a14" stroke-width="1.23" stroke-linejoin="round" style="font-weight:400;">so với</text><text transform="translate(91.79 2284.77) scale(0.7630 1)" font-size="68.37" fill="#137a14" stroke="#137a14" stroke-width="1.26" stroke-linejoin="round" style="font-weight:400;">quý I/2025</text><path d="M497.7 1718.8 L461.4 1718.8 L461.4 2208.5 L533.4 2208.5 M461.4 1880 L562.3 1880 M461.4 2068.9 L644.1 2068.9" fill="none" stroke="#f06a78" stroke-width="3.8"/><circle cx="497.7" cy="1718.8" r="8.2" fill="#f06a78"/><circle cx="562.3" cy="1880.0" r="8.2" fill="#f06a78"/><circle cx="644.1" cy="2068.9" r="8.2" fill="#f06a78"/><circle cx="533.4" cy="2208.5" r="8.2" fill="#f06a78"/><text transform="translate(538.82 1733.31) scale(0.7390 1)" font-size="45.52" fill="#111" stroke="#111" stroke-width="0.18" stroke-linejoin="round" style="font-weight:700;">Nông, lâm nghiệp</text><text transform="translate(643.24 1790.21) scale(0.7124 1)" font-size="45.52" fill="#111" stroke="#111" stroke-width="0.18" stroke-linejoin="round" style="font-weight:700;">và thủy sản</text><text transform="translate(622.23 1893.71) scale(0.7146 1)" font-size="45.52" fill="#111" stroke="#111" stroke-width="0.18" stroke-linejoin="round" style="font-weight:700;">Công nghiệp</text><text transform="translate(633.64 1950.71) scale(0.7013 1)" font-size="45.52" fill="#111" stroke="#111" stroke-width="0.18" stroke-linejoin="round" style="font-weight:700;">và xây dựng</text><text transform="translate(705.82 2080.61) scale(0.7052 1)" font-size="45.52" fill="#111" stroke="#111" stroke-width="0.18" stroke-linejoin="round" style="font-weight:700;">Dịch vụ</text><text transform="translate(582.00 2220.71) scale(0.7179 1)" font-size="45.52" fill="#111" stroke="#111" stroke-width="0.18" stroke-linejoin="round" style="font-weight:700;">Thuế sản phẩm</text><text transform="translate(495.97 2278.41) scale(0.7081 1)" font-size="45.52" fill="#111" stroke="#111" stroke-width="0.18" stroke-linejoin="round" style="font-weight:700;">trừ trợ cấp sản phẩm</text><line x1="836.5" y1="1681" x2="836.5" y2="2315" stroke="#111" stroke-width="2"/><rect x="837.5" y="1694" width="84.3" height="115.5" fill="#56f200"/><rect x="837.5" y="1854.6" width="281.4" height="115.5" fill="#ff8a06"/><rect x="837.5" y="2015.4" width="348.5" height="115.7" fill="#0c8fe6"/><rect x="837.5" y="2176.3" width="68.9" height="115.4" fill="#a96a03"/><text transform="translate(937.34 1766.89) scale(0.7592 1)" font-size="54.91" fill="#16981f" stroke="#16981f" stroke-width="0.22" stroke-linejoin="round" style="font-weight:700;">280.314</text><text transform="translate(1100.60 1766.53) scale(0.6748 1)" font-size="50.96" fill="#16981f" stroke="#16981f" stroke-width="0.94" stroke-linejoin="round" style="font-weight:400;">tỷ đồng</text><text transform="translate(1129.03 1926.79) scale(0.7834 1)" font-size="53.47" fill="#f06c16" stroke="#f06c16" stroke-width="0.22" stroke-linejoin="round" style="font-weight:700;">930.263</text><text transform="translate(978.91 2088.79) scale(0.8058 1)" font-size="52.74" fill="#fff" stroke="#fff" stroke-width="0.21" stroke-linejoin="round" style="font-weight:700;">1.150.827</text><text transform="translate(922.53 2250.39) scale(0.7979 1)" font-size="52.74" fill="#a86e12" stroke="#a86e12" stroke-width="0.21" stroke-linejoin="round" style="font-weight:700;">228.514</text><defs><linearGradient id="arr" x1="0" y1="0" x2="0" y2="1"><stop offset="0" stop-color="#46d20a"/><stop offset="0.4" stop-color="#86e25a"/><stop offset="0.62" stop-color="#c6f3a6"/><stop offset="1" stop-color="#e8fcdc"/></linearGradient></defs><path d="M1396.7 1691.3 L1481.8 1742.3 L1455.9 1742.3 L1455.9 1826.8 L1337.6 1826.8 L1337.6 1742.3 L1311.9 1742.3 Z" fill="url(#arr)"/><text transform="translate(1363.81 1751.24) scale(0.7538 1)" font-size="38.64" fill="#127a14" stroke="#127a14" stroke-width="0.71" stroke-linejoin="round" style="font-weight:400;">Tăng</text><text transform="translate(1349.20 1804.72) scale(0.8238 1)" font-size="40.46" fill="#127a14" stroke="#127a14" stroke-width="0.16" stroke-linejoin="round" style="font-weight:700;">3,58%</text><path d="M1396.7 1855.0 L1481.8 1906.0 L1455.9 1906.0 L1455.9 1990.5 L1337.6 1990.5 L1337.6 1906.0 L1311.9 1906.0 Z" fill="url(#arr)"/><text transform="translate(1363.81 1914.94) scale(0.7538 1)" font-size="38.64" fill="#127a14" stroke="#127a14" stroke-width="0.71" stroke-linejoin="round" style="font-weight:400;">Tăng</text><text transform="translate(1348.91 1968.42) scale(0.8264 1)" font-size="40.46" fill="#127a14" stroke="#127a14" stroke-width="0.16" stroke-linejoin="round" style="font-weight:700;">8,92%</text><path d="M1396.7 2023.0 L1481.8 2074.0 L1455.9 2074.0 L1455.9 2158.5 L1337.6 2158.5 L1337.6 2074.0 L1311.9 2074.0 Z" fill="url(#arr)"/><text transform="translate(1363.81 2082.94) scale(0.7538 1)" font-size="38.64" fill="#127a14" stroke="#127a14" stroke-width="0.71" stroke-linejoin="round" style="font-weight:400;">Tăng</text><text transform="translate(1348.91 2136.42) scale(0.8264 1)" font-size="40.46" fill="#127a14" stroke="#127a14" stroke-width="0.16" stroke-linejoin="round" style="font-weight:700;">8,18%</text><path d="M1396.7 2191.3 L1481.8 2242.3 L1455.9 2242.3 L1455.9 2326.8 L1337.6 2326.8 L1337.6 2242.3 L1311.9 2242.3 Z" fill="url(#arr)"/><text transform="translate(1363.81 2251.24) scale(0.7538 1)" font-size="38.64" fill="#127a14" stroke="#127a14" stroke-width="0.71" stroke-linejoin="round" style="font-weight:400;">Tăng</text><text transform="translate(1348.52 2304.72) scale(0.8297 1)" font-size="40.46" fill="#127a14" stroke="#127a14" stroke-width="0.16" stroke-linejoin="round" style="font-weight:700;">7,08%</text><g transform="translate(74.0 1188.0) rotate(-45.00)"><text transform="scale(1.2373 1)" x="-2.53" y="13.0" font-size="37.8" style="font-weight:700" fill="#d8d8d8" fill-opacity="0.25">INFOGRAPHICS</text></g><g transform="translate(711.0 1295.0) rotate(-44.31)"><text transform="scale(1.2374 1)" x="-2.53" y="13.0" font-size="37.8" style="font-weight:700" fill="#d8d8d8" fill-opacity="0.25">INFOGRAPHICS</text></g><g transform="translate(1098.0 1664.0) rotate(-44.63)"><text transform="scale(1.1359 1)" x="-2.53" y="13.0" font-size="37.8" style="font-weight:700" fill="#d8d8d8" fill-opacity="0.25">INFOGRAPHICS</text></g><g transform="translate(155.0 1852.0) rotate(-43.28)"><text transform="scale(1.2354 1)" x="-2.53" y="13.0" font-size="37.8" style="font-weight:700" fill="#d8d8d8" fill-opacity="0.25">INFOGRAPHICS</text></g><g transform="translate(544.0 2222.0) rotate(-45.23)"><text transform="scale(1.2176 1)" x="-2.53" y="13.0" font-size="37.8" style="font-weight:700" fill="#d8d8d8" fill-opacity="0.25">INFOGRAPHICS</text></g><g transform="translate(154.0 2600.0) rotate(-45.00)"><text transform="scale(0.8414 1)" x="-2.53" y="13.0" font-size="37.8" style="font-weight:700" fill="#d8d8d8" fill-opacity="0.25">INFOGRAPHICS</text></g><g transform="translate(185.0 1399.0) rotate(-40.05)"><text transform="scale(1.3523 1)" x="-0.65" y="20.0" font-size="58.1" style="font-weight:700" fill="none" stroke="#d0d0d0" stroke-width="2" stroke-opacity="0.3">TTXVN – VNA</text></g><g transform="translate(1096.0 1270.0) rotate(-46.70)"><text transform="scale(1.3347 1)" x="-0.65" y="20.0" font-size="58.1" style="font-weight:700" fill="none" stroke="#d0d0d0" stroke-width="2" stroke-opacity="0.3">TTXVN – VNA</text></g><g transform="translate(637.0 1701.0) rotate(-37.95)"><text transform="scale(1.0428 1)" x="-0.65" y="20.0" font-size="58.1" style="font-weight:700" fill="none" stroke="#d0d0d0" stroke-width="2" stroke-opacity="0.3">TTXVN – VNA</text></g><g transform="translate(929.0 2188.0) rotate(-38.27)"><text transform="scale(0.8508 1)" x="-0.65" y="20.0" font-size="58.1" style="font-weight:700" fill="none" stroke="#d0d0d0" stroke-width="2" stroke-opacity="0.3">TTXVN – VNA</text></g><g transform="translate(1206.0 2635.0) rotate(-36.39)"><text transform="scale(0.8298 1)" x="-0.65" y="20.0" font-size="58.1" style="font-weight:700" fill="none" stroke="#d0d0d0" stroke-width="2" stroke-opacity="0.3">TTXVN – VNA</text></g><text transform="translate(43.71 2433.47) scale(0.7617 1)" font-size="36.09" fill="#157518" stroke="#157518" stroke-width="0.67" stroke-linejoin="round" style="font-weight:400;">* Bắt đầu từ quý I/2026, tổng sản phẩm trong nước theo giá so sánh</text><text transform="translate(43.01 2482.27) scale(0.7546 1)" font-size="36.09" fill="#157518" stroke="#157518" stroke-width="0.67" stroke-linejoin="round" style="font-weight:400;">được tính theo năm gốc 2020</text><text transform="translate(41.98 2552.95) scale(0.7022 1)" font-size="37.51" fill="#111" stroke="#111" stroke-width="0.69" stroke-linejoin="round" style="font-weight:400;">Nguồn: Cục Thống kê</text><text transform="translate(43.79 2616.46) scale(0.8433 1)" font-size="36.80" fill="#dcf8d4" stroke="#dcf8d4" stroke-width="0.68" stroke-linejoin="round" style="font-weight:400;font-style:italic;">infographics.vn</text><circle cx="1145.9" cy="2547" r="22" fill="none" stroke="#3a55a6" stroke-width="3"/><path d="M1154 2539 A11.5 11.5 0 1 0 1154 2555" fill="none" stroke="#3a55a6" stroke-width="2.6"/><path d="M1200.3 2522.3 H1243.5 V2539.3 H1234.5 V2580.4 H1210.5 V2539.3 H1200.3 Z" fill="#3a55a6"/><path d="M1244.8 2522.3 H1288 V2539.3 H1279 V2580.4 H1255 V2539.3 H1244.8 Z" fill="#3a55a6"/><path d="M1289 2522.3 H1308 L1318 2541 L1328 2522.3 H1347 L1328 2551 L1349 2580.4 H1329 L1318 2561 L1307 2580.4 H1287 L1308 2551 Z" fill="#3a55a6"/><path d="M1351.5 2523.4 L1371.5 2523.4 L1378.2 2543 L1384.4 2523.4 L1406.3 2523.4 L1390.5 2579.5 L1367 2579.5 Z" fill="#d81f2b" stroke="#3a55a6" stroke-width="2.2" stroke-linejoin="miter"/><path d="M1408 2522.3 H1426 L1440 2550 V2522.3 H1456.2 V2580.4 H1439 L1424 2553 V2580.4 H1408 Z" fill="#3a55a6"/><ellipse cx="1373.6" cy="2556.7" rx="33" ry="8" transform="rotate(-22 1373.6 2556.7)" fill="none" stroke="#d81f2b" stroke-width="1.8"/><circle cx="1369.6" cy="2559.5" r="14.5" fill="#fff"/><circle cx="1369.6" cy="2559.5" r="12.5" fill="#dfe5f2" stroke="#4a5a90" stroke-width="1.2"/><path d="M1360 2552 C1365 2549 1371 2550 1374 2554 C1376 2560 1372 2566 1367 2568 C1361 2565 1358 2558 1360 2552 Z" fill="#8c9cd0"/><path d="M1343 2568 C1360 2570 1385 2562 1405 2546" fill="none" stroke="#d81f2b" stroke-width="1.8"/><text transform="translate(1289.22 2595.97) scale(0.9027 1)" font-size="17.34" fill="#d81f2b" stroke="#d81f2b" stroke-width="0.07" stroke-linejoin="round" style="font-weight:700;">Vietnam News Agency</text></svg></body></html>
